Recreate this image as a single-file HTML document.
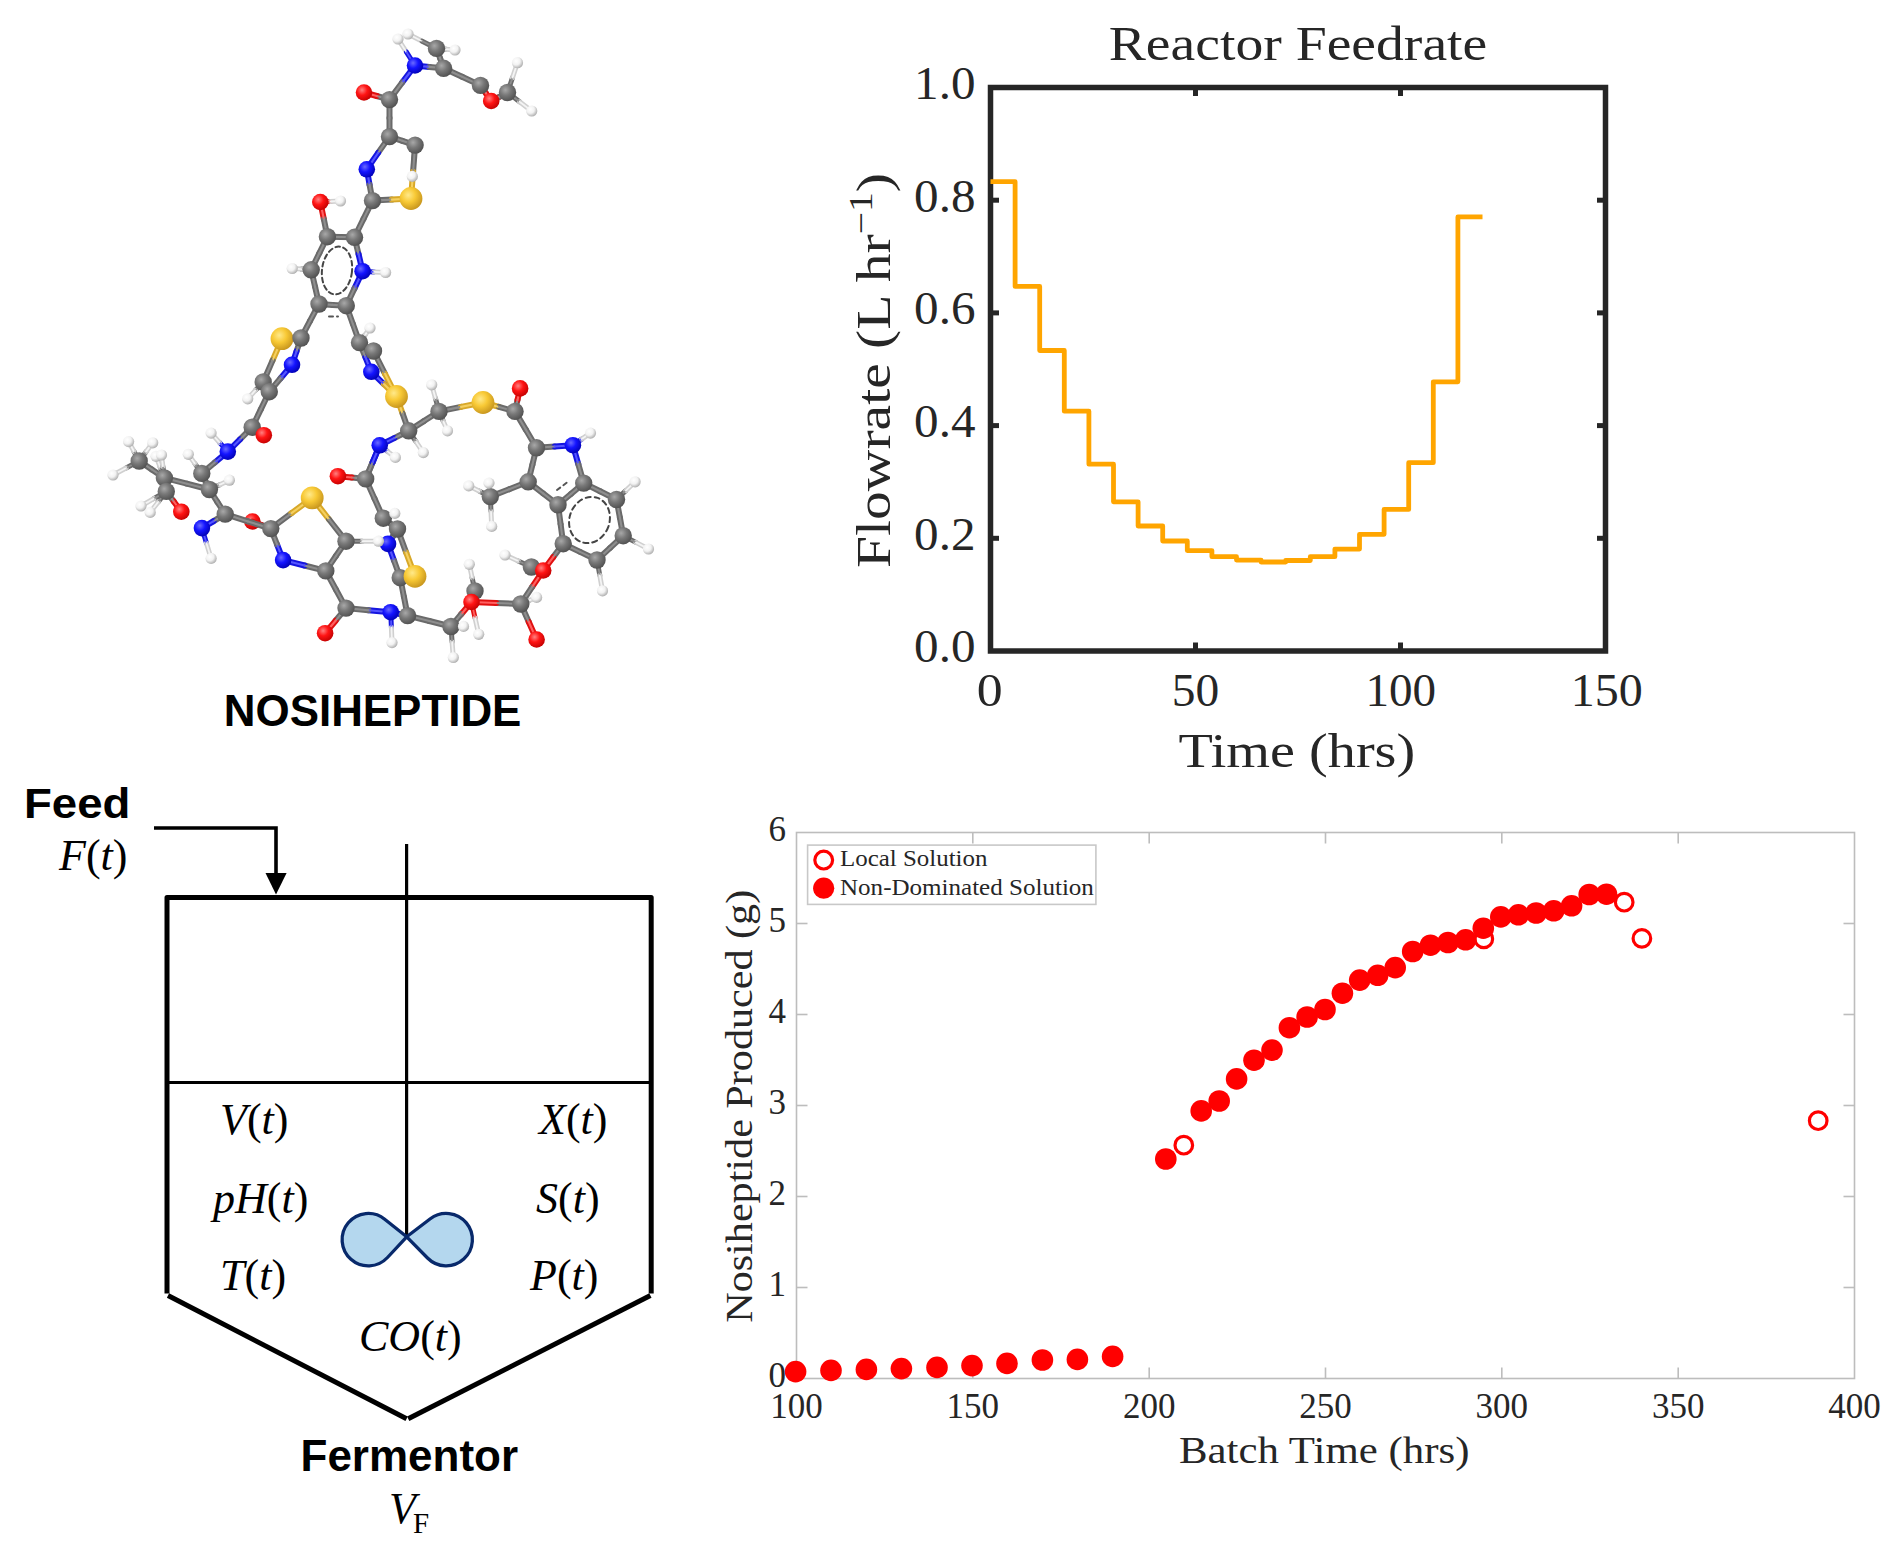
<!DOCTYPE html>
<html><head><meta charset="utf-8"><title>Nosiheptide fed-batch fermentation</title>
<style>html,body{margin:0;padding:0;background:#fff;} svg{display:block;}</style></head>
<body><svg width="1899" height="1552" viewBox="0 0 1899 1552">
<rect width="1899" height="1552" fill="#fff"/>

<defs>
<radialGradient id="gC" cx="0.38" cy="0.35" r="0.7">
 <stop offset="0" stop-color="#a8a8a8"/><stop offset="0.45" stop-color="#787878"/><stop offset="1" stop-color="#4e4e4e"/>
</radialGradient>
<radialGradient id="gN" cx="0.38" cy="0.35" r="0.7">
 <stop offset="0" stop-color="#6a6aff"/><stop offset="0.45" stop-color="#1414ff"/><stop offset="1" stop-color="#0000b0"/>
</radialGradient>
<radialGradient id="gO" cx="0.38" cy="0.35" r="0.7">
 <stop offset="0" stop-color="#ff8080"/><stop offset="0.45" stop-color="#ff1414"/><stop offset="1" stop-color="#c00000"/>
</radialGradient>
<radialGradient id="gS" cx="0.38" cy="0.35" r="0.7">
 <stop offset="0" stop-color="#ffe98a"/><stop offset="0.45" stop-color="#f8c935"/><stop offset="1" stop-color="#c4921c"/>
</radialGradient>
<radialGradient id="gH" cx="0.38" cy="0.35" r="0.7">
 <stop offset="0" stop-color="#ffffff"/><stop offset="0.5" stop-color="#f2f2f2"/><stop offset="1" stop-color="#a8a8a8"/>
</radialGradient>
</defs>
<g id="mol" stroke-linecap="round"><circle cx="252.4" cy="521.5" r="8.3" fill="url(#gO)"/><line x1="398.0" y1="39.0" x2="406.5" y2="52.2" stroke="#d0d0d0" stroke-width="5.0"/><line x1="406.5" y1="52.2" x2="415.0" y2="65.5" stroke="#1515e0" stroke-width="5.0"/><line x1="398.0" y1="39.0" x2="406.5" y2="52.2" stroke="#f4f4f4" stroke-width="1.8"/><line x1="406.5" y1="52.2" x2="415.0" y2="65.5" stroke="#5555ff" stroke-width="1.8"/><line x1="408.0" y1="34.0" x2="422.2" y2="41.2" stroke="#d0d0d0" stroke-width="5.0"/><line x1="422.2" y1="41.2" x2="436.5" y2="48.4" stroke="#6a6a6a" stroke-width="5.0"/><line x1="408.0" y1="34.0" x2="422.2" y2="41.2" stroke="#f4f4f4" stroke-width="1.8"/><line x1="422.2" y1="41.2" x2="436.5" y2="48.4" stroke="#8e8e8e" stroke-width="1.8"/><line x1="415.0" y1="65.5" x2="429.3" y2="66.9" stroke="#1515e0" stroke-width="6.0"/><line x1="429.3" y1="66.9" x2="443.6" y2="68.3" stroke="#6a6a6a" stroke-width="6.0"/><line x1="415.0" y1="65.5" x2="429.3" y2="66.9" stroke="#5555ff" stroke-width="2.1"/><line x1="429.3" y1="66.9" x2="443.6" y2="68.3" stroke="#8e8e8e" stroke-width="2.1"/><line x1="436.5" y1="48.4" x2="440.1" y2="58.3" stroke="#6a6a6a" stroke-width="6.0"/><line x1="440.1" y1="58.3" x2="443.6" y2="68.3" stroke="#6a6a6a" stroke-width="6.0"/><line x1="436.5" y1="48.4" x2="440.1" y2="58.3" stroke="#8e8e8e" stroke-width="2.1"/><line x1="440.1" y1="58.3" x2="443.6" y2="68.3" stroke="#8e8e8e" stroke-width="2.1"/><line x1="436.5" y1="48.4" x2="445.8" y2="49.2" stroke="#6a6a6a" stroke-width="5.0"/><line x1="445.8" y1="49.2" x2="455.0" y2="50.0" stroke="#d0d0d0" stroke-width="5.0"/><line x1="436.5" y1="48.4" x2="445.8" y2="49.2" stroke="#8e8e8e" stroke-width="1.8"/><line x1="445.8" y1="49.2" x2="455.0" y2="50.0" stroke="#f4f4f4" stroke-width="1.8"/><line x1="443.6" y1="68.3" x2="462.1" y2="76.8" stroke="#6a6a6a" stroke-width="6.0"/><line x1="462.1" y1="76.8" x2="480.5" y2="85.4" stroke="#6a6a6a" stroke-width="6.0"/><line x1="443.6" y1="68.3" x2="462.1" y2="76.8" stroke="#8e8e8e" stroke-width="2.1"/><line x1="462.1" y1="76.8" x2="480.5" y2="85.4" stroke="#8e8e8e" stroke-width="2.1"/><line x1="480.5" y1="85.4" x2="485.9" y2="93.2" stroke="#6a6a6a" stroke-width="6.0"/><line x1="485.9" y1="93.2" x2="491.2" y2="101.0" stroke="#e01010" stroke-width="6.0"/><line x1="480.5" y1="85.4" x2="485.9" y2="93.2" stroke="#8e8e8e" stroke-width="2.1"/><line x1="485.9" y1="93.2" x2="491.2" y2="101.0" stroke="#ff6060" stroke-width="2.1"/><line x1="491.2" y1="101.0" x2="499.4" y2="96.8" stroke="#e01010" stroke-width="6.0"/><line x1="499.4" y1="96.8" x2="507.5" y2="92.5" stroke="#6a6a6a" stroke-width="6.0"/><line x1="491.2" y1="101.0" x2="499.4" y2="96.8" stroke="#ff6060" stroke-width="2.1"/><line x1="499.4" y1="96.8" x2="507.5" y2="92.5" stroke="#8e8e8e" stroke-width="2.1"/><line x1="507.5" y1="92.5" x2="512.5" y2="77.6" stroke="#6a6a6a" stroke-width="5.0"/><line x1="512.5" y1="77.6" x2="517.5" y2="62.7" stroke="#d0d0d0" stroke-width="5.0"/><line x1="507.5" y1="92.5" x2="512.5" y2="77.6" stroke="#8e8e8e" stroke-width="1.8"/><line x1="512.5" y1="77.6" x2="517.5" y2="62.7" stroke="#f4f4f4" stroke-width="1.8"/><line x1="507.5" y1="92.5" x2="519.6" y2="101.8" stroke="#6a6a6a" stroke-width="5.0"/><line x1="519.6" y1="101.8" x2="531.7" y2="111.0" stroke="#d0d0d0" stroke-width="5.0"/><line x1="507.5" y1="92.5" x2="519.6" y2="101.8" stroke="#8e8e8e" stroke-width="1.8"/><line x1="519.6" y1="101.8" x2="531.7" y2="111.0" stroke="#f4f4f4" stroke-width="1.8"/><line x1="415.0" y1="65.5" x2="402.2" y2="82.5" stroke="#1515e0" stroke-width="6.0"/><line x1="402.2" y1="82.5" x2="389.5" y2="99.6" stroke="#6a6a6a" stroke-width="6.0"/><line x1="415.0" y1="65.5" x2="402.2" y2="82.5" stroke="#5555ff" stroke-width="2.1"/><line x1="402.2" y1="82.5" x2="389.5" y2="99.6" stroke="#8e8e8e" stroke-width="2.1"/><line x1="389.5" y1="99.6" x2="376.8" y2="96.0" stroke="#6a6a6a" stroke-width="6.0"/><line x1="376.8" y1="96.0" x2="364.0" y2="92.5" stroke="#e01010" stroke-width="6.0"/><line x1="389.5" y1="99.6" x2="376.8" y2="96.0" stroke="#8e8e8e" stroke-width="2.1"/><line x1="376.8" y1="96.0" x2="364.0" y2="92.5" stroke="#ff6060" stroke-width="2.1"/><line x1="389.5" y1="99.6" x2="389.5" y2="118.1" stroke="#6a6a6a" stroke-width="6.0"/><line x1="389.5" y1="118.1" x2="389.5" y2="136.6" stroke="#6a6a6a" stroke-width="6.0"/><line x1="389.5" y1="99.6" x2="389.5" y2="118.1" stroke="#8e8e8e" stroke-width="2.1"/><line x1="389.5" y1="118.1" x2="389.5" y2="136.6" stroke="#8e8e8e" stroke-width="2.1"/><line x1="389.5" y1="136.6" x2="402.3" y2="140.8" stroke="#6a6a6a" stroke-width="6.0"/><line x1="402.3" y1="140.8" x2="415.1" y2="145.1" stroke="#6a6a6a" stroke-width="6.0"/><line x1="389.5" y1="136.6" x2="402.3" y2="140.8" stroke="#8e8e8e" stroke-width="2.1"/><line x1="402.3" y1="140.8" x2="415.1" y2="145.1" stroke="#8e8e8e" stroke-width="2.1"/><line x1="389.5" y1="136.6" x2="378.1" y2="152.9" stroke="#6a6a6a" stroke-width="6.0"/><line x1="378.1" y1="152.9" x2="366.8" y2="169.3" stroke="#1515e0" stroke-width="6.0"/><line x1="389.5" y1="136.6" x2="378.1" y2="152.9" stroke="#8e8e8e" stroke-width="2.1"/><line x1="378.1" y1="152.9" x2="366.8" y2="169.3" stroke="#5555ff" stroke-width="2.1"/><line x1="415.1" y1="145.1" x2="413.7" y2="160.8" stroke="#6a6a6a" stroke-width="5.0"/><line x1="413.7" y1="160.8" x2="412.3" y2="176.4" stroke="#d0d0d0" stroke-width="5.0"/><line x1="415.1" y1="145.1" x2="413.7" y2="160.8" stroke="#8e8e8e" stroke-width="1.8"/><line x1="413.7" y1="160.8" x2="412.3" y2="176.4" stroke="#f4f4f4" stroke-width="1.8"/><line x1="415.1" y1="145.1" x2="413.1" y2="171.8" stroke="#6a6a6a" stroke-width="6.0"/><line x1="413.1" y1="171.8" x2="411.0" y2="198.5" stroke="#d8a828" stroke-width="6.0"/><line x1="415.1" y1="145.1" x2="413.1" y2="171.8" stroke="#8e8e8e" stroke-width="2.1"/><line x1="413.1" y1="171.8" x2="411.0" y2="198.5" stroke="#f5d060" stroke-width="2.1"/><line x1="366.8" y1="169.3" x2="369.6" y2="184.9" stroke="#1515e0" stroke-width="6.0"/><line x1="369.6" y1="184.9" x2="372.5" y2="200.6" stroke="#6a6a6a" stroke-width="6.0"/><line x1="366.8" y1="169.3" x2="369.6" y2="184.9" stroke="#5555ff" stroke-width="2.1"/><line x1="369.6" y1="184.9" x2="372.5" y2="200.6" stroke="#8e8e8e" stroke-width="2.1"/><line x1="372.5" y1="200.6" x2="391.8" y2="199.6" stroke="#6a6a6a" stroke-width="6.0"/><line x1="391.8" y1="199.6" x2="411.0" y2="198.5" stroke="#d8a828" stroke-width="6.0"/><line x1="372.5" y1="200.6" x2="391.8" y2="199.6" stroke="#8e8e8e" stroke-width="2.1"/><line x1="391.8" y1="199.6" x2="411.0" y2="198.5" stroke="#f5d060" stroke-width="2.1"/><line x1="372.5" y1="200.6" x2="363.5" y2="218.9" stroke="#6a6a6a" stroke-width="6.0"/><line x1="363.5" y1="218.9" x2="354.5" y2="237.3" stroke="#6a6a6a" stroke-width="6.0"/><line x1="372.5" y1="200.6" x2="363.5" y2="218.9" stroke="#8e8e8e" stroke-width="2.1"/><line x1="363.5" y1="218.9" x2="354.5" y2="237.3" stroke="#8e8e8e" stroke-width="2.1"/><line x1="320.3" y1="202.0" x2="330.4" y2="201.5" stroke="#e01010" stroke-width="5.0"/><line x1="330.4" y1="201.5" x2="340.5" y2="201.0" stroke="#d0d0d0" stroke-width="5.0"/><line x1="320.3" y1="202.0" x2="330.4" y2="201.5" stroke="#ff6060" stroke-width="1.8"/><line x1="330.4" y1="201.5" x2="340.5" y2="201.0" stroke="#f4f4f4" stroke-width="1.8"/><line x1="320.3" y1="202.0" x2="323.9" y2="219.3" stroke="#e01010" stroke-width="6.0"/><line x1="323.9" y1="219.3" x2="327.4" y2="236.7" stroke="#6a6a6a" stroke-width="6.0"/><line x1="320.3" y1="202.0" x2="323.9" y2="219.3" stroke="#ff6060" stroke-width="2.1"/><line x1="323.9" y1="219.3" x2="327.4" y2="236.7" stroke="#8e8e8e" stroke-width="2.1"/><line x1="327.4" y1="236.7" x2="340.9" y2="237.0" stroke="#6a6a6a" stroke-width="6.0"/><line x1="340.9" y1="237.0" x2="354.5" y2="237.3" stroke="#6a6a6a" stroke-width="6.0"/><line x1="327.4" y1="236.7" x2="340.9" y2="237.0" stroke="#8e8e8e" stroke-width="2.1"/><line x1="340.9" y1="237.0" x2="354.5" y2="237.3" stroke="#8e8e8e" stroke-width="2.1"/><line x1="354.5" y1="237.3" x2="358.6" y2="254.2" stroke="#6a6a6a" stroke-width="6.0"/><line x1="358.6" y1="254.2" x2="362.6" y2="271.2" stroke="#1515e0" stroke-width="6.0"/><line x1="354.5" y1="237.3" x2="358.6" y2="254.2" stroke="#8e8e8e" stroke-width="2.1"/><line x1="358.6" y1="254.2" x2="362.6" y2="271.2" stroke="#5555ff" stroke-width="2.1"/><line x1="362.6" y1="271.2" x2="374.1" y2="271.9" stroke="#1515e0" stroke-width="5.0"/><line x1="374.1" y1="271.9" x2="385.6" y2="272.5" stroke="#d0d0d0" stroke-width="5.0"/><line x1="362.6" y1="271.2" x2="374.1" y2="271.9" stroke="#5555ff" stroke-width="1.8"/><line x1="374.1" y1="271.9" x2="385.6" y2="272.5" stroke="#f4f4f4" stroke-width="1.8"/><line x1="362.6" y1="271.2" x2="354.5" y2="288.4" stroke="#1515e0" stroke-width="6.0"/><line x1="354.5" y1="288.4" x2="346.3" y2="305.7" stroke="#6a6a6a" stroke-width="6.0"/><line x1="362.6" y1="271.2" x2="354.5" y2="288.4" stroke="#5555ff" stroke-width="2.1"/><line x1="354.5" y1="288.4" x2="346.3" y2="305.7" stroke="#8e8e8e" stroke-width="2.1"/><line x1="346.3" y1="305.7" x2="332.6" y2="304.9" stroke="#6a6a6a" stroke-width="6.0"/><line x1="332.6" y1="304.9" x2="319.0" y2="304.0" stroke="#6a6a6a" stroke-width="6.0"/><line x1="346.3" y1="305.7" x2="332.6" y2="304.9" stroke="#8e8e8e" stroke-width="2.1"/><line x1="332.6" y1="304.9" x2="319.0" y2="304.0" stroke="#8e8e8e" stroke-width="2.1"/><line x1="319.0" y1="304.0" x2="315.1" y2="286.9" stroke="#6a6a6a" stroke-width="6.0"/><line x1="315.1" y1="286.9" x2="311.2" y2="269.8" stroke="#6a6a6a" stroke-width="6.0"/><line x1="319.0" y1="304.0" x2="315.1" y2="286.9" stroke="#8e8e8e" stroke-width="2.1"/><line x1="315.1" y1="286.9" x2="311.2" y2="269.8" stroke="#8e8e8e" stroke-width="2.1"/><line x1="311.2" y1="269.8" x2="319.3" y2="253.2" stroke="#6a6a6a" stroke-width="6.0"/><line x1="319.3" y1="253.2" x2="327.4" y2="236.7" stroke="#6a6a6a" stroke-width="6.0"/><line x1="311.2" y1="269.8" x2="319.3" y2="253.2" stroke="#8e8e8e" stroke-width="2.1"/><line x1="319.3" y1="253.2" x2="327.4" y2="236.7" stroke="#8e8e8e" stroke-width="2.1"/><line x1="311.2" y1="269.8" x2="301.7" y2="269.1" stroke="#6a6a6a" stroke-width="5.0"/><line x1="301.7" y1="269.1" x2="292.2" y2="268.5" stroke="#d0d0d0" stroke-width="5.0"/><line x1="311.2" y1="269.8" x2="301.7" y2="269.1" stroke="#8e8e8e" stroke-width="1.8"/><line x1="301.7" y1="269.1" x2="292.2" y2="268.5" stroke="#f4f4f4" stroke-width="1.8"/><line x1="319.0" y1="304.0" x2="310.0" y2="321.0" stroke="#6a6a6a" stroke-width="6.0"/><line x1="310.0" y1="321.0" x2="301.0" y2="338.0" stroke="#6a6a6a" stroke-width="6.0"/><line x1="319.0" y1="304.0" x2="310.0" y2="321.0" stroke="#8e8e8e" stroke-width="2.1"/><line x1="310.0" y1="321.0" x2="301.0" y2="338.0" stroke="#8e8e8e" stroke-width="2.1"/><line x1="346.3" y1="305.7" x2="352.9" y2="324.1" stroke="#6a6a6a" stroke-width="6.0"/><line x1="352.9" y1="324.1" x2="359.5" y2="342.6" stroke="#6a6a6a" stroke-width="6.0"/><line x1="346.3" y1="305.7" x2="352.9" y2="324.1" stroke="#8e8e8e" stroke-width="2.1"/><line x1="352.9" y1="324.1" x2="359.5" y2="342.6" stroke="#8e8e8e" stroke-width="2.1"/><line x1="301.0" y1="338.0" x2="291.5" y2="338.4" stroke="#6a6a6a" stroke-width="6.0"/><line x1="291.5" y1="338.4" x2="282.0" y2="338.7" stroke="#d8a828" stroke-width="6.0"/><line x1="301.0" y1="338.0" x2="291.5" y2="338.4" stroke="#8e8e8e" stroke-width="2.1"/><line x1="291.5" y1="338.4" x2="282.0" y2="338.7" stroke="#f5d060" stroke-width="2.1"/><line x1="301.0" y1="338.0" x2="296.5" y2="351.4" stroke="#6a6a6a" stroke-width="6.0"/><line x1="296.5" y1="351.4" x2="292.0" y2="364.8" stroke="#1515e0" stroke-width="6.0"/><line x1="301.0" y1="338.0" x2="296.5" y2="351.4" stroke="#8e8e8e" stroke-width="2.1"/><line x1="296.5" y1="351.4" x2="292.0" y2="364.8" stroke="#5555ff" stroke-width="2.1"/><line x1="282.0" y1="338.7" x2="272.6" y2="360.4" stroke="#d8a828" stroke-width="6.0"/><line x1="272.6" y1="360.4" x2="263.2" y2="382.0" stroke="#6a6a6a" stroke-width="6.0"/><line x1="282.0" y1="338.7" x2="272.6" y2="360.4" stroke="#f5d060" stroke-width="2.1"/><line x1="272.6" y1="360.4" x2="263.2" y2="382.0" stroke="#8e8e8e" stroke-width="2.1"/><line x1="292.0" y1="364.8" x2="280.6" y2="378.2" stroke="#1515e0" stroke-width="6.0"/><line x1="280.6" y1="378.2" x2="269.3" y2="391.7" stroke="#6a6a6a" stroke-width="6.0"/><line x1="292.0" y1="364.8" x2="280.6" y2="378.2" stroke="#5555ff" stroke-width="2.1"/><line x1="280.6" y1="378.2" x2="269.3" y2="391.7" stroke="#8e8e8e" stroke-width="2.1"/><line x1="263.2" y1="382.0" x2="266.2" y2="386.9" stroke="#6a6a6a" stroke-width="6.0"/><line x1="266.2" y1="386.9" x2="269.3" y2="391.7" stroke="#6a6a6a" stroke-width="6.0"/><line x1="263.2" y1="382.0" x2="266.2" y2="386.9" stroke="#8e8e8e" stroke-width="2.1"/><line x1="266.2" y1="386.9" x2="269.3" y2="391.7" stroke="#8e8e8e" stroke-width="2.1"/><line x1="263.2" y1="382.0" x2="255.4" y2="390.4" stroke="#6a6a6a" stroke-width="5.0"/><line x1="255.4" y1="390.4" x2="247.7" y2="398.8" stroke="#d0d0d0" stroke-width="5.0"/><line x1="263.2" y1="382.0" x2="255.4" y2="390.4" stroke="#8e8e8e" stroke-width="1.8"/><line x1="255.4" y1="390.4" x2="247.7" y2="398.8" stroke="#f4f4f4" stroke-width="1.8"/><line x1="269.3" y1="391.7" x2="260.8" y2="409.4" stroke="#6a6a6a" stroke-width="6.0"/><line x1="260.8" y1="409.4" x2="252.2" y2="427.2" stroke="#6a6a6a" stroke-width="6.0"/><line x1="269.3" y1="391.7" x2="260.8" y2="409.4" stroke="#8e8e8e" stroke-width="2.1"/><line x1="260.8" y1="409.4" x2="252.2" y2="427.2" stroke="#8e8e8e" stroke-width="2.1"/><line x1="359.5" y1="342.6" x2="364.8" y2="335.3" stroke="#6a6a6a" stroke-width="5.0"/><line x1="364.8" y1="335.3" x2="370.0" y2="328.0" stroke="#d0d0d0" stroke-width="5.0"/><line x1="359.5" y1="342.6" x2="364.8" y2="335.3" stroke="#8e8e8e" stroke-width="1.8"/><line x1="364.8" y1="335.3" x2="370.0" y2="328.0" stroke="#f4f4f4" stroke-width="1.8"/><line x1="359.5" y1="342.6" x2="366.5" y2="346.8" stroke="#6a6a6a" stroke-width="6.0"/><line x1="366.5" y1="346.8" x2="373.5" y2="351.0" stroke="#6a6a6a" stroke-width="6.0"/><line x1="359.5" y1="342.6" x2="366.5" y2="346.8" stroke="#8e8e8e" stroke-width="2.1"/><line x1="366.5" y1="346.8" x2="373.5" y2="351.0" stroke="#8e8e8e" stroke-width="2.1"/><line x1="359.5" y1="342.6" x2="365.4" y2="357.2" stroke="#6a6a6a" stroke-width="6.0"/><line x1="365.4" y1="357.2" x2="371.3" y2="371.8" stroke="#1515e0" stroke-width="6.0"/><line x1="359.5" y1="342.6" x2="365.4" y2="357.2" stroke="#8e8e8e" stroke-width="2.1"/><line x1="365.4" y1="357.2" x2="371.3" y2="371.8" stroke="#5555ff" stroke-width="2.1"/><line x1="373.5" y1="351.0" x2="385.0" y2="373.8" stroke="#6a6a6a" stroke-width="6.0"/><line x1="385.0" y1="373.8" x2="396.5" y2="396.5" stroke="#d8a828" stroke-width="6.0"/><line x1="373.5" y1="351.0" x2="385.0" y2="373.8" stroke="#8e8e8e" stroke-width="2.1"/><line x1="385.0" y1="373.8" x2="396.5" y2="396.5" stroke="#f5d060" stroke-width="2.1"/><line x1="371.3" y1="371.8" x2="383.9" y2="384.1" stroke="#1515e0" stroke-width="6.0"/><line x1="383.9" y1="384.1" x2="396.5" y2="396.5" stroke="#d8a828" stroke-width="6.0"/><line x1="371.3" y1="371.8" x2="383.9" y2="384.1" stroke="#5555ff" stroke-width="2.1"/><line x1="383.9" y1="384.1" x2="396.5" y2="396.5" stroke="#f5d060" stroke-width="2.1"/><line x1="396.5" y1="396.5" x2="402.6" y2="413.6" stroke="#d8a828" stroke-width="6.0"/><line x1="402.6" y1="413.6" x2="408.7" y2="430.8" stroke="#6a6a6a" stroke-width="6.0"/><line x1="396.5" y1="396.5" x2="402.6" y2="413.6" stroke="#f5d060" stroke-width="2.1"/><line x1="402.6" y1="413.6" x2="408.7" y2="430.8" stroke="#8e8e8e" stroke-width="2.1"/><line x1="408.7" y1="430.8" x2="394.2" y2="438.1" stroke="#6a6a6a" stroke-width="6.0"/><line x1="394.2" y1="438.1" x2="379.7" y2="445.3" stroke="#1515e0" stroke-width="6.0"/><line x1="408.7" y1="430.8" x2="394.2" y2="438.1" stroke="#8e8e8e" stroke-width="2.1"/><line x1="394.2" y1="438.1" x2="379.7" y2="445.3" stroke="#5555ff" stroke-width="2.1"/><line x1="408.7" y1="430.8" x2="416.0" y2="441.7" stroke="#6a6a6a" stroke-width="5.0"/><line x1="416.0" y1="441.7" x2="423.3" y2="452.6" stroke="#d0d0d0" stroke-width="5.0"/><line x1="408.7" y1="430.8" x2="416.0" y2="441.7" stroke="#8e8e8e" stroke-width="1.8"/><line x1="416.0" y1="441.7" x2="423.3" y2="452.6" stroke="#f4f4f4" stroke-width="1.8"/><line x1="408.7" y1="430.8" x2="423.9" y2="421.1" stroke="#6a6a6a" stroke-width="6.0"/><line x1="423.9" y1="421.1" x2="439.0" y2="411.4" stroke="#6a6a6a" stroke-width="6.0"/><line x1="408.7" y1="430.8" x2="423.9" y2="421.1" stroke="#8e8e8e" stroke-width="2.1"/><line x1="423.9" y1="421.1" x2="439.0" y2="411.4" stroke="#8e8e8e" stroke-width="2.1"/><line x1="379.7" y1="445.3" x2="387.5" y2="451.4" stroke="#1515e0" stroke-width="5.0"/><line x1="387.5" y1="451.4" x2="395.4" y2="457.4" stroke="#d0d0d0" stroke-width="5.0"/><line x1="379.7" y1="445.3" x2="387.5" y2="451.4" stroke="#5555ff" stroke-width="1.8"/><line x1="387.5" y1="451.4" x2="395.4" y2="457.4" stroke="#f4f4f4" stroke-width="1.8"/><line x1="379.7" y1="445.3" x2="372.7" y2="462.1" stroke="#1515e0" stroke-width="6.0"/><line x1="372.7" y1="462.1" x2="365.7" y2="478.9" stroke="#6a6a6a" stroke-width="6.0"/><line x1="379.7" y1="445.3" x2="372.7" y2="462.1" stroke="#5555ff" stroke-width="2.1"/><line x1="372.7" y1="462.1" x2="365.7" y2="478.9" stroke="#8e8e8e" stroke-width="2.1"/><line x1="439.0" y1="411.4" x2="435.4" y2="398.1" stroke="#6a6a6a" stroke-width="5.0"/><line x1="435.4" y1="398.1" x2="431.7" y2="384.8" stroke="#d0d0d0" stroke-width="5.0"/><line x1="439.0" y1="411.4" x2="435.4" y2="398.1" stroke="#8e8e8e" stroke-width="1.8"/><line x1="435.4" y1="398.1" x2="431.7" y2="384.8" stroke="#f4f4f4" stroke-width="1.8"/><line x1="439.0" y1="411.4" x2="443.2" y2="421.1" stroke="#6a6a6a" stroke-width="5.0"/><line x1="443.2" y1="421.1" x2="447.5" y2="430.8" stroke="#d0d0d0" stroke-width="5.0"/><line x1="439.0" y1="411.4" x2="443.2" y2="421.1" stroke="#8e8e8e" stroke-width="1.8"/><line x1="443.2" y1="421.1" x2="447.5" y2="430.8" stroke="#f4f4f4" stroke-width="1.8"/><line x1="439.0" y1="411.4" x2="461.0" y2="406.9" stroke="#6a6a6a" stroke-width="6.0"/><line x1="461.0" y1="406.9" x2="483.0" y2="402.5" stroke="#d8a828" stroke-width="6.0"/><line x1="439.0" y1="411.4" x2="461.0" y2="406.9" stroke="#8e8e8e" stroke-width="2.1"/><line x1="461.0" y1="406.9" x2="483.0" y2="402.5" stroke="#f5d060" stroke-width="2.1"/><line x1="483.0" y1="402.5" x2="499.0" y2="406.9" stroke="#d8a828" stroke-width="6.0"/><line x1="499.0" y1="406.9" x2="515.0" y2="411.4" stroke="#6a6a6a" stroke-width="6.0"/><line x1="483.0" y1="402.5" x2="499.0" y2="406.9" stroke="#f5d060" stroke-width="2.1"/><line x1="499.0" y1="406.9" x2="515.0" y2="411.4" stroke="#8e8e8e" stroke-width="2.1"/><line x1="515.0" y1="411.4" x2="517.5" y2="399.9" stroke="#6a6a6a" stroke-width="6.0"/><line x1="517.5" y1="399.9" x2="520.1" y2="388.4" stroke="#e01010" stroke-width="6.0"/><line x1="515.0" y1="411.4" x2="517.5" y2="399.9" stroke="#8e8e8e" stroke-width="2.1"/><line x1="517.5" y1="399.9" x2="520.1" y2="388.4" stroke="#ff6060" stroke-width="2.1"/><line x1="515.0" y1="411.4" x2="525.8" y2="429.6" stroke="#6a6a6a" stroke-width="6.0"/><line x1="525.8" y1="429.6" x2="536.5" y2="447.8" stroke="#6a6a6a" stroke-width="6.0"/><line x1="515.0" y1="411.4" x2="525.8" y2="429.6" stroke="#8e8e8e" stroke-width="2.1"/><line x1="525.8" y1="429.6" x2="536.5" y2="447.8" stroke="#8e8e8e" stroke-width="2.1"/><line x1="536.5" y1="447.8" x2="554.7" y2="446.5" stroke="#6a6a6a" stroke-width="6.0"/><line x1="554.7" y1="446.5" x2="572.9" y2="445.2" stroke="#1515e0" stroke-width="6.0"/><line x1="536.5" y1="447.8" x2="554.7" y2="446.5" stroke="#8e8e8e" stroke-width="2.1"/><line x1="554.7" y1="446.5" x2="572.9" y2="445.2" stroke="#5555ff" stroke-width="2.1"/><line x1="572.9" y1="445.2" x2="581.7" y2="439.1" stroke="#1515e0" stroke-width="5.0"/><line x1="581.7" y1="439.1" x2="590.5" y2="433.1" stroke="#d0d0d0" stroke-width="5.0"/><line x1="572.9" y1="445.2" x2="581.7" y2="439.1" stroke="#5555ff" stroke-width="1.8"/><line x1="581.7" y1="439.1" x2="590.5" y2="433.1" stroke="#f4f4f4" stroke-width="1.8"/><line x1="572.9" y1="445.2" x2="578.3" y2="464.1" stroke="#1515e0" stroke-width="6.0"/><line x1="578.3" y1="464.1" x2="583.7" y2="483.1" stroke="#6a6a6a" stroke-width="6.0"/><line x1="572.9" y1="445.2" x2="578.3" y2="464.1" stroke="#5555ff" stroke-width="2.1"/><line x1="578.3" y1="464.1" x2="583.7" y2="483.1" stroke="#8e8e8e" stroke-width="2.1"/><line x1="536.5" y1="447.8" x2="532.4" y2="464.8" stroke="#6a6a6a" stroke-width="6.0"/><line x1="532.4" y1="464.8" x2="528.2" y2="481.8" stroke="#6a6a6a" stroke-width="6.0"/><line x1="536.5" y1="447.8" x2="532.4" y2="464.8" stroke="#8e8e8e" stroke-width="2.1"/><line x1="532.4" y1="464.8" x2="528.2" y2="481.8" stroke="#8e8e8e" stroke-width="2.1"/><line x1="528.2" y1="481.8" x2="543.1" y2="493.3" stroke="#6a6a6a" stroke-width="6.0"/><line x1="543.1" y1="493.3" x2="558.0" y2="504.8" stroke="#6a6a6a" stroke-width="6.0"/><line x1="528.2" y1="481.8" x2="543.1" y2="493.3" stroke="#8e8e8e" stroke-width="2.1"/><line x1="543.1" y1="493.3" x2="558.0" y2="504.8" stroke="#8e8e8e" stroke-width="2.1"/><line x1="583.7" y1="483.1" x2="570.9" y2="494.0" stroke="#6a6a6a" stroke-width="6.0"/><line x1="570.9" y1="494.0" x2="558.0" y2="504.8" stroke="#6a6a6a" stroke-width="6.0"/><line x1="583.7" y1="483.1" x2="570.9" y2="494.0" stroke="#8e8e8e" stroke-width="2.1"/><line x1="570.9" y1="494.0" x2="558.0" y2="504.8" stroke="#8e8e8e" stroke-width="2.1"/><line x1="583.7" y1="483.1" x2="600.1" y2="491.3" stroke="#6a6a6a" stroke-width="6.0"/><line x1="600.1" y1="491.3" x2="616.5" y2="499.5" stroke="#6a6a6a" stroke-width="6.0"/><line x1="583.7" y1="483.1" x2="600.1" y2="491.3" stroke="#8e8e8e" stroke-width="2.1"/><line x1="600.1" y1="491.3" x2="616.5" y2="499.5" stroke="#8e8e8e" stroke-width="2.1"/><line x1="616.5" y1="499.5" x2="625.8" y2="490.6" stroke="#6a6a6a" stroke-width="5.0"/><line x1="625.8" y1="490.6" x2="635.1" y2="481.8" stroke="#d0d0d0" stroke-width="5.0"/><line x1="616.5" y1="499.5" x2="625.8" y2="490.6" stroke="#8e8e8e" stroke-width="1.8"/><line x1="625.8" y1="490.6" x2="635.1" y2="481.8" stroke="#f4f4f4" stroke-width="1.8"/><line x1="616.5" y1="499.5" x2="619.9" y2="517.6" stroke="#6a6a6a" stroke-width="6.0"/><line x1="619.9" y1="517.6" x2="623.2" y2="535.7" stroke="#6a6a6a" stroke-width="6.0"/><line x1="616.5" y1="499.5" x2="619.9" y2="517.6" stroke="#8e8e8e" stroke-width="2.1"/><line x1="619.9" y1="517.6" x2="623.2" y2="535.7" stroke="#8e8e8e" stroke-width="2.1"/><line x1="623.2" y1="535.7" x2="635.9" y2="542.4" stroke="#6a6a6a" stroke-width="5.0"/><line x1="635.9" y1="542.4" x2="648.5" y2="549.0" stroke="#d0d0d0" stroke-width="5.0"/><line x1="623.2" y1="535.7" x2="635.9" y2="542.4" stroke="#8e8e8e" stroke-width="1.8"/><line x1="635.9" y1="542.4" x2="648.5" y2="549.0" stroke="#f4f4f4" stroke-width="1.8"/><line x1="623.2" y1="535.7" x2="610.1" y2="547.9" stroke="#6a6a6a" stroke-width="6.0"/><line x1="610.1" y1="547.9" x2="597.0" y2="560.0" stroke="#6a6a6a" stroke-width="6.0"/><line x1="623.2" y1="535.7" x2="610.1" y2="547.9" stroke="#8e8e8e" stroke-width="2.1"/><line x1="610.1" y1="547.9" x2="597.0" y2="560.0" stroke="#8e8e8e" stroke-width="2.1"/><line x1="597.0" y1="560.0" x2="599.8" y2="575.4" stroke="#6a6a6a" stroke-width="5.0"/><line x1="599.8" y1="575.4" x2="602.5" y2="590.8" stroke="#d0d0d0" stroke-width="5.0"/><line x1="597.0" y1="560.0" x2="599.8" y2="575.4" stroke="#8e8e8e" stroke-width="1.8"/><line x1="599.8" y1="575.4" x2="602.5" y2="590.8" stroke="#f4f4f4" stroke-width="1.8"/><line x1="597.0" y1="560.0" x2="580.1" y2="551.9" stroke="#6a6a6a" stroke-width="6.0"/><line x1="580.1" y1="551.9" x2="563.2" y2="543.7" stroke="#6a6a6a" stroke-width="6.0"/><line x1="597.0" y1="560.0" x2="580.1" y2="551.9" stroke="#8e8e8e" stroke-width="2.1"/><line x1="580.1" y1="551.9" x2="563.2" y2="543.7" stroke="#8e8e8e" stroke-width="2.1"/><line x1="563.2" y1="543.7" x2="560.6" y2="524.2" stroke="#6a6a6a" stroke-width="6.0"/><line x1="560.6" y1="524.2" x2="558.0" y2="504.8" stroke="#6a6a6a" stroke-width="6.0"/><line x1="563.2" y1="543.7" x2="560.6" y2="524.2" stroke="#8e8e8e" stroke-width="2.1"/><line x1="560.6" y1="524.2" x2="558.0" y2="504.8" stroke="#8e8e8e" stroke-width="2.1"/><line x1="528.2" y1="481.8" x2="509.2" y2="489.2" stroke="#6a6a6a" stroke-width="6.0"/><line x1="509.2" y1="489.2" x2="490.3" y2="496.6" stroke="#6a6a6a" stroke-width="6.0"/><line x1="528.2" y1="481.8" x2="509.2" y2="489.2" stroke="#8e8e8e" stroke-width="2.1"/><line x1="509.2" y1="489.2" x2="490.3" y2="496.6" stroke="#8e8e8e" stroke-width="2.1"/><line x1="490.3" y1="496.6" x2="479.5" y2="491.2" stroke="#6a6a6a" stroke-width="5.0"/><line x1="479.5" y1="491.2" x2="468.7" y2="485.8" stroke="#d0d0d0" stroke-width="5.0"/><line x1="490.3" y1="496.6" x2="479.5" y2="491.2" stroke="#8e8e8e" stroke-width="1.8"/><line x1="479.5" y1="491.2" x2="468.7" y2="485.8" stroke="#f4f4f4" stroke-width="1.8"/><line x1="490.3" y1="496.6" x2="489.6" y2="489.9" stroke="#6a6a6a" stroke-width="5.0"/><line x1="489.6" y1="489.9" x2="489.0" y2="483.1" stroke="#d0d0d0" stroke-width="5.0"/><line x1="490.3" y1="496.6" x2="489.6" y2="489.9" stroke="#8e8e8e" stroke-width="1.8"/><line x1="489.6" y1="489.9" x2="489.0" y2="483.1" stroke="#f4f4f4" stroke-width="1.8"/><line x1="490.3" y1="496.6" x2="491.0" y2="511.5" stroke="#6a6a6a" stroke-width="5.0"/><line x1="491.0" y1="511.5" x2="491.7" y2="526.4" stroke="#d0d0d0" stroke-width="5.0"/><line x1="490.3" y1="496.6" x2="491.0" y2="511.5" stroke="#8e8e8e" stroke-width="1.8"/><line x1="491.0" y1="511.5" x2="491.7" y2="526.4" stroke="#f4f4f4" stroke-width="1.8"/><line x1="563.2" y1="543.7" x2="553.2" y2="557.1" stroke="#6a6a6a" stroke-width="6.0"/><line x1="553.2" y1="557.1" x2="543.2" y2="570.5" stroke="#e01010" stroke-width="6.0"/><line x1="563.2" y1="543.7" x2="553.2" y2="557.1" stroke="#8e8e8e" stroke-width="2.1"/><line x1="553.2" y1="557.1" x2="543.2" y2="570.5" stroke="#ff6060" stroke-width="2.1"/><line x1="543.2" y1="570.5" x2="537.3" y2="568.8" stroke="#e01010" stroke-width="6.0"/><line x1="537.3" y1="568.8" x2="531.4" y2="567.0" stroke="#6a6a6a" stroke-width="6.0"/><line x1="543.2" y1="570.5" x2="537.3" y2="568.8" stroke="#ff6060" stroke-width="2.1"/><line x1="537.3" y1="568.8" x2="531.4" y2="567.0" stroke="#8e8e8e" stroke-width="2.1"/><line x1="531.4" y1="567.0" x2="518.2" y2="561.0" stroke="#6a6a6a" stroke-width="5.0"/><line x1="518.2" y1="561.0" x2="505.0" y2="555.0" stroke="#d0d0d0" stroke-width="5.0"/><line x1="531.4" y1="567.0" x2="518.2" y2="561.0" stroke="#8e8e8e" stroke-width="1.8"/><line x1="518.2" y1="561.0" x2="505.0" y2="555.0" stroke="#f4f4f4" stroke-width="1.8"/><line x1="543.2" y1="570.5" x2="532.0" y2="587.2" stroke="#e01010" stroke-width="6.0"/><line x1="532.0" y1="587.2" x2="520.8" y2="604.0" stroke="#6a6a6a" stroke-width="6.0"/><line x1="543.2" y1="570.5" x2="532.0" y2="587.2" stroke="#ff6060" stroke-width="2.1"/><line x1="532.0" y1="587.2" x2="520.8" y2="604.0" stroke="#8e8e8e" stroke-width="2.1"/><line x1="520.8" y1="604.0" x2="528.7" y2="600.7" stroke="#6a6a6a" stroke-width="5.0"/><line x1="528.7" y1="600.7" x2="536.6" y2="597.4" stroke="#d0d0d0" stroke-width="5.0"/><line x1="520.8" y1="604.0" x2="528.7" y2="600.7" stroke="#8e8e8e" stroke-width="1.8"/><line x1="528.7" y1="600.7" x2="536.6" y2="597.4" stroke="#f4f4f4" stroke-width="1.8"/><line x1="520.8" y1="604.0" x2="528.7" y2="621.8" stroke="#6a6a6a" stroke-width="6.0"/><line x1="528.7" y1="621.8" x2="536.6" y2="639.5" stroke="#e01010" stroke-width="6.0"/><line x1="520.8" y1="604.0" x2="528.7" y2="621.8" stroke="#8e8e8e" stroke-width="2.1"/><line x1="528.7" y1="621.8" x2="536.6" y2="639.5" stroke="#ff6060" stroke-width="2.1"/><line x1="520.8" y1="604.0" x2="496.1" y2="603.0" stroke="#6a6a6a" stroke-width="6.0"/><line x1="496.1" y1="603.0" x2="471.5" y2="602.0" stroke="#e01010" stroke-width="6.0"/><line x1="520.8" y1="604.0" x2="496.1" y2="603.0" stroke="#8e8e8e" stroke-width="2.1"/><line x1="496.1" y1="603.0" x2="471.5" y2="602.0" stroke="#ff6060" stroke-width="2.1"/><line x1="471.5" y1="602.0" x2="473.2" y2="596.5" stroke="#e01010" stroke-width="6.0"/><line x1="473.2" y1="596.5" x2="475.0" y2="591.0" stroke="#6a6a6a" stroke-width="6.0"/><line x1="471.5" y1="602.0" x2="473.2" y2="596.5" stroke="#ff6060" stroke-width="2.1"/><line x1="473.2" y1="596.5" x2="475.0" y2="591.0" stroke="#8e8e8e" stroke-width="2.1"/><line x1="475.0" y1="591.0" x2="472.1" y2="577.6" stroke="#6a6a6a" stroke-width="5.0"/><line x1="472.1" y1="577.6" x2="469.3" y2="564.3" stroke="#d0d0d0" stroke-width="5.0"/><line x1="475.0" y1="591.0" x2="472.1" y2="577.6" stroke="#8e8e8e" stroke-width="1.8"/><line x1="472.1" y1="577.6" x2="469.3" y2="564.3" stroke="#f4f4f4" stroke-width="1.8"/><line x1="471.5" y1="602.0" x2="461.2" y2="614.2" stroke="#e01010" stroke-width="6.0"/><line x1="461.2" y1="614.2" x2="451.0" y2="626.5" stroke="#6a6a6a" stroke-width="6.0"/><line x1="471.5" y1="602.0" x2="461.2" y2="614.2" stroke="#ff6060" stroke-width="2.1"/><line x1="461.2" y1="614.2" x2="451.0" y2="626.5" stroke="#8e8e8e" stroke-width="2.1"/><line x1="471.5" y1="602.0" x2="475.1" y2="618.1" stroke="#e01010" stroke-width="5.0"/><line x1="475.1" y1="618.1" x2="478.7" y2="634.3" stroke="#d0d0d0" stroke-width="5.0"/><line x1="471.5" y1="602.0" x2="475.1" y2="618.1" stroke="#ff6060" stroke-width="1.8"/><line x1="475.1" y1="618.1" x2="478.7" y2="634.3" stroke="#f4f4f4" stroke-width="1.8"/><line x1="451.0" y1="626.5" x2="457.2" y2="626.5" stroke="#6a6a6a" stroke-width="5.0"/><line x1="457.2" y1="626.5" x2="463.5" y2="626.4" stroke="#d0d0d0" stroke-width="5.0"/><line x1="451.0" y1="626.5" x2="457.2" y2="626.5" stroke="#8e8e8e" stroke-width="1.8"/><line x1="457.2" y1="626.5" x2="463.5" y2="626.4" stroke="#f4f4f4" stroke-width="1.8"/><line x1="451.0" y1="626.5" x2="452.1" y2="642.0" stroke="#6a6a6a" stroke-width="5.0"/><line x1="452.1" y1="642.0" x2="453.3" y2="657.5" stroke="#d0d0d0" stroke-width="5.0"/><line x1="451.0" y1="626.5" x2="452.1" y2="642.0" stroke="#8e8e8e" stroke-width="1.8"/><line x1="452.1" y1="642.0" x2="453.3" y2="657.5" stroke="#f4f4f4" stroke-width="1.8"/><line x1="451.0" y1="626.5" x2="429.3" y2="621.0" stroke="#6a6a6a" stroke-width="6.0"/><line x1="429.3" y1="621.0" x2="407.6" y2="615.6" stroke="#6a6a6a" stroke-width="6.0"/><line x1="451.0" y1="626.5" x2="429.3" y2="621.0" stroke="#8e8e8e" stroke-width="2.1"/><line x1="429.3" y1="621.0" x2="407.6" y2="615.6" stroke="#8e8e8e" stroke-width="2.1"/><line x1="407.6" y1="615.6" x2="399.1" y2="613.9" stroke="#6a6a6a" stroke-width="6.0"/><line x1="399.1" y1="613.9" x2="390.7" y2="612.2" stroke="#1515e0" stroke-width="6.0"/><line x1="407.6" y1="615.6" x2="399.1" y2="613.9" stroke="#8e8e8e" stroke-width="2.1"/><line x1="399.1" y1="613.9" x2="390.7" y2="612.2" stroke="#5555ff" stroke-width="2.1"/><line x1="390.7" y1="612.2" x2="391.4" y2="627.4" stroke="#1515e0" stroke-width="5.0"/><line x1="391.4" y1="627.4" x2="392.0" y2="642.6" stroke="#d0d0d0" stroke-width="5.0"/><line x1="390.7" y1="612.2" x2="391.4" y2="627.4" stroke="#5555ff" stroke-width="1.8"/><line x1="391.4" y1="627.4" x2="392.0" y2="642.6" stroke="#f4f4f4" stroke-width="1.8"/><line x1="390.7" y1="612.2" x2="368.4" y2="610.2" stroke="#1515e0" stroke-width="6.0"/><line x1="368.4" y1="610.2" x2="346.0" y2="608.1" stroke="#6a6a6a" stroke-width="6.0"/><line x1="390.7" y1="612.2" x2="368.4" y2="610.2" stroke="#5555ff" stroke-width="2.1"/><line x1="368.4" y1="610.2" x2="346.0" y2="608.1" stroke="#8e8e8e" stroke-width="2.1"/><line x1="346.0" y1="608.1" x2="335.6" y2="620.7" stroke="#6a6a6a" stroke-width="6.0"/><line x1="335.6" y1="620.7" x2="325.1" y2="633.2" stroke="#e01010" stroke-width="6.0"/><line x1="346.0" y1="608.1" x2="335.6" y2="620.7" stroke="#8e8e8e" stroke-width="2.1"/><line x1="335.6" y1="620.7" x2="325.1" y2="633.2" stroke="#ff6060" stroke-width="2.1"/><line x1="346.0" y1="608.1" x2="335.9" y2="589.5" stroke="#6a6a6a" stroke-width="6.0"/><line x1="335.9" y1="589.5" x2="325.8" y2="570.9" stroke="#6a6a6a" stroke-width="6.0"/><line x1="346.0" y1="608.1" x2="335.9" y2="589.5" stroke="#8e8e8e" stroke-width="2.1"/><line x1="335.9" y1="589.5" x2="325.8" y2="570.9" stroke="#8e8e8e" stroke-width="2.1"/><line x1="325.8" y1="570.9" x2="304.5" y2="565.5" stroke="#6a6a6a" stroke-width="6.0"/><line x1="304.5" y1="565.5" x2="283.1" y2="560.1" stroke="#1515e0" stroke-width="6.0"/><line x1="325.8" y1="570.9" x2="304.5" y2="565.5" stroke="#8e8e8e" stroke-width="2.1"/><line x1="304.5" y1="565.5" x2="283.1" y2="560.1" stroke="#5555ff" stroke-width="2.1"/><line x1="325.8" y1="570.9" x2="335.9" y2="556.0" stroke="#6a6a6a" stroke-width="6.0"/><line x1="335.9" y1="556.0" x2="346.0" y2="541.2" stroke="#6a6a6a" stroke-width="6.0"/><line x1="325.8" y1="570.9" x2="335.9" y2="556.0" stroke="#8e8e8e" stroke-width="2.1"/><line x1="335.9" y1="556.0" x2="346.0" y2="541.2" stroke="#8e8e8e" stroke-width="2.1"/><line x1="283.1" y1="560.1" x2="277.0" y2="544.4" stroke="#1515e0" stroke-width="6.0"/><line x1="277.0" y1="544.4" x2="270.8" y2="528.6" stroke="#6a6a6a" stroke-width="6.0"/><line x1="283.1" y1="560.1" x2="277.0" y2="544.4" stroke="#5555ff" stroke-width="2.1"/><line x1="277.0" y1="544.4" x2="270.8" y2="528.6" stroke="#8e8e8e" stroke-width="2.1"/><line x1="270.8" y1="528.6" x2="291.5" y2="513.2" stroke="#6a6a6a" stroke-width="6.0"/><line x1="291.5" y1="513.2" x2="312.2" y2="497.9" stroke="#d8a828" stroke-width="6.0"/><line x1="270.8" y1="528.6" x2="291.5" y2="513.2" stroke="#8e8e8e" stroke-width="2.1"/><line x1="291.5" y1="513.2" x2="312.2" y2="497.9" stroke="#f5d060" stroke-width="2.1"/><line x1="312.2" y1="497.9" x2="329.1" y2="519.5" stroke="#d8a828" stroke-width="6.0"/><line x1="329.1" y1="519.5" x2="346.0" y2="541.2" stroke="#6a6a6a" stroke-width="6.0"/><line x1="312.2" y1="497.9" x2="329.1" y2="519.5" stroke="#f5d060" stroke-width="2.1"/><line x1="329.1" y1="519.5" x2="346.0" y2="541.2" stroke="#8e8e8e" stroke-width="2.1"/><line x1="346.0" y1="541.2" x2="362.2" y2="541.2" stroke="#6a6a6a" stroke-width="5.0"/><line x1="362.2" y1="541.2" x2="378.5" y2="541.2" stroke="#d0d0d0" stroke-width="5.0"/><line x1="346.0" y1="541.2" x2="362.2" y2="541.2" stroke="#8e8e8e" stroke-width="1.8"/><line x1="362.2" y1="541.2" x2="378.5" y2="541.2" stroke="#f4f4f4" stroke-width="1.8"/><line x1="388.0" y1="543.9" x2="392.8" y2="536.5" stroke="#1515e0" stroke-width="6.0"/><line x1="392.8" y1="536.5" x2="397.5" y2="529.0" stroke="#6a6a6a" stroke-width="6.0"/><line x1="388.0" y1="543.9" x2="392.8" y2="536.5" stroke="#5555ff" stroke-width="2.1"/><line x1="392.8" y1="536.5" x2="397.5" y2="529.0" stroke="#8e8e8e" stroke-width="2.1"/><line x1="388.0" y1="543.9" x2="394.1" y2="560.8" stroke="#1515e0" stroke-width="6.0"/><line x1="394.1" y1="560.8" x2="400.2" y2="577.7" stroke="#6a6a6a" stroke-width="6.0"/><line x1="388.0" y1="543.9" x2="394.1" y2="560.8" stroke="#5555ff" stroke-width="2.1"/><line x1="394.1" y1="560.8" x2="400.2" y2="577.7" stroke="#8e8e8e" stroke-width="2.1"/><line x1="383.3" y1="518.2" x2="374.5" y2="498.6" stroke="#6a6a6a" stroke-width="6.0"/><line x1="374.5" y1="498.6" x2="365.7" y2="478.9" stroke="#6a6a6a" stroke-width="6.0"/><line x1="383.3" y1="518.2" x2="374.5" y2="498.6" stroke="#8e8e8e" stroke-width="2.1"/><line x1="374.5" y1="498.6" x2="365.7" y2="478.9" stroke="#8e8e8e" stroke-width="2.1"/><line x1="383.3" y1="518.2" x2="390.4" y2="523.6" stroke="#6a6a6a" stroke-width="6.0"/><line x1="390.4" y1="523.6" x2="397.5" y2="529.0" stroke="#6a6a6a" stroke-width="6.0"/><line x1="383.3" y1="518.2" x2="390.4" y2="523.6" stroke="#8e8e8e" stroke-width="2.1"/><line x1="390.4" y1="523.6" x2="397.5" y2="529.0" stroke="#8e8e8e" stroke-width="2.1"/><line x1="397.5" y1="529.0" x2="406.2" y2="552.6" stroke="#6a6a6a" stroke-width="6.0"/><line x1="406.2" y1="552.6" x2="415.0" y2="576.3" stroke="#d8a828" stroke-width="6.0"/><line x1="397.5" y1="529.0" x2="406.2" y2="552.6" stroke="#8e8e8e" stroke-width="2.1"/><line x1="406.2" y1="552.6" x2="415.0" y2="576.3" stroke="#f5d060" stroke-width="2.1"/><line x1="415.0" y1="576.3" x2="407.6" y2="577.0" stroke="#d8a828" stroke-width="6.0"/><line x1="407.6" y1="577.0" x2="400.2" y2="577.7" stroke="#6a6a6a" stroke-width="6.0"/><line x1="415.0" y1="576.3" x2="407.6" y2="577.0" stroke="#f5d060" stroke-width="2.1"/><line x1="407.6" y1="577.0" x2="400.2" y2="577.7" stroke="#8e8e8e" stroke-width="2.1"/><line x1="400.2" y1="577.7" x2="403.9" y2="596.7" stroke="#6a6a6a" stroke-width="6.0"/><line x1="403.9" y1="596.7" x2="407.6" y2="615.6" stroke="#6a6a6a" stroke-width="6.0"/><line x1="400.2" y1="577.7" x2="403.9" y2="596.7" stroke="#8e8e8e" stroke-width="2.1"/><line x1="403.9" y1="596.7" x2="407.6" y2="615.6" stroke="#8e8e8e" stroke-width="2.1"/><line x1="383.3" y1="518.2" x2="389.1" y2="515.8" stroke="#6a6a6a" stroke-width="5.0"/><line x1="389.1" y1="515.8" x2="394.8" y2="513.4" stroke="#d0d0d0" stroke-width="5.0"/><line x1="383.3" y1="518.2" x2="389.1" y2="515.8" stroke="#8e8e8e" stroke-width="1.8"/><line x1="389.1" y1="515.8" x2="394.8" y2="513.4" stroke="#f4f4f4" stroke-width="1.8"/><line x1="365.7" y1="478.9" x2="351.8" y2="477.5" stroke="#6a6a6a" stroke-width="6.0"/><line x1="351.8" y1="477.5" x2="337.9" y2="476.2" stroke="#e01010" stroke-width="6.0"/><line x1="365.7" y1="478.9" x2="351.8" y2="477.5" stroke="#8e8e8e" stroke-width="2.1"/><line x1="351.8" y1="477.5" x2="337.9" y2="476.2" stroke="#ff6060" stroke-width="2.1"/><line x1="365.7" y1="478.9" x2="372.7" y2="462.1" stroke="#6a6a6a" stroke-width="6.0"/><line x1="372.7" y1="462.1" x2="379.7" y2="445.3" stroke="#1515e0" stroke-width="6.0"/><line x1="365.7" y1="478.9" x2="372.7" y2="462.1" stroke="#8e8e8e" stroke-width="2.1"/><line x1="372.7" y1="462.1" x2="379.7" y2="445.3" stroke="#5555ff" stroke-width="2.1"/><line x1="270.8" y1="528.6" x2="261.6" y2="525.0" stroke="#6a6a6a" stroke-width="6.0"/><line x1="261.6" y1="525.0" x2="252.4" y2="521.5" stroke="#e01010" stroke-width="6.0"/><line x1="270.8" y1="528.6" x2="261.6" y2="525.0" stroke="#8e8e8e" stroke-width="2.1"/><line x1="261.6" y1="525.0" x2="252.4" y2="521.5" stroke="#ff6060" stroke-width="2.1"/><line x1="270.8" y1="528.6" x2="248.0" y2="521.4" stroke="#6a6a6a" stroke-width="6.0"/><line x1="248.0" y1="521.4" x2="225.2" y2="514.1" stroke="#6a6a6a" stroke-width="6.0"/><line x1="270.8" y1="528.6" x2="248.0" y2="521.4" stroke="#8e8e8e" stroke-width="2.1"/><line x1="248.0" y1="521.4" x2="225.2" y2="514.1" stroke="#8e8e8e" stroke-width="2.1"/><line x1="252.2" y1="427.2" x2="258.0" y2="431.2" stroke="#6a6a6a" stroke-width="6.0"/><line x1="258.0" y1="431.2" x2="263.8" y2="435.2" stroke="#e01010" stroke-width="6.0"/><line x1="252.2" y1="427.2" x2="258.0" y2="431.2" stroke="#8e8e8e" stroke-width="2.1"/><line x1="258.0" y1="431.2" x2="263.8" y2="435.2" stroke="#ff6060" stroke-width="2.1"/><line x1="252.2" y1="427.2" x2="240.0" y2="439.4" stroke="#6a6a6a" stroke-width="6.0"/><line x1="240.0" y1="439.4" x2="227.8" y2="451.6" stroke="#1515e0" stroke-width="6.0"/><line x1="252.2" y1="427.2" x2="240.0" y2="439.4" stroke="#8e8e8e" stroke-width="2.1"/><line x1="240.0" y1="439.4" x2="227.8" y2="451.6" stroke="#5555ff" stroke-width="2.1"/><line x1="227.8" y1="451.6" x2="219.4" y2="442.4" stroke="#1515e0" stroke-width="5.0"/><line x1="219.4" y1="442.4" x2="211.1" y2="433.1" stroke="#d0d0d0" stroke-width="5.0"/><line x1="227.8" y1="451.6" x2="219.4" y2="442.4" stroke="#5555ff" stroke-width="1.8"/><line x1="219.4" y1="442.4" x2="211.1" y2="433.1" stroke="#f4f4f4" stroke-width="1.8"/><line x1="227.8" y1="451.6" x2="214.8" y2="462.5" stroke="#1515e0" stroke-width="6.0"/><line x1="214.8" y1="462.5" x2="201.8" y2="473.4" stroke="#6a6a6a" stroke-width="6.0"/><line x1="227.8" y1="451.6" x2="214.8" y2="462.5" stroke="#5555ff" stroke-width="2.1"/><line x1="214.8" y1="462.5" x2="201.8" y2="473.4" stroke="#8e8e8e" stroke-width="2.1"/><line x1="201.8" y1="473.4" x2="195.1" y2="463.9" stroke="#6a6a6a" stroke-width="5.0"/><line x1="195.1" y1="463.9" x2="188.3" y2="454.3" stroke="#d0d0d0" stroke-width="5.0"/><line x1="201.8" y1="473.4" x2="195.1" y2="463.9" stroke="#8e8e8e" stroke-width="1.8"/><line x1="195.1" y1="463.9" x2="188.3" y2="454.3" stroke="#f4f4f4" stroke-width="1.8"/><line x1="201.8" y1="473.4" x2="205.6" y2="481.4" stroke="#6a6a6a" stroke-width="6.0"/><line x1="205.6" y1="481.4" x2="209.4" y2="489.5" stroke="#6a6a6a" stroke-width="6.0"/><line x1="201.8" y1="473.4" x2="205.6" y2="481.4" stroke="#8e8e8e" stroke-width="2.1"/><line x1="205.6" y1="481.4" x2="209.4" y2="489.5" stroke="#8e8e8e" stroke-width="2.1"/><line x1="164.4" y1="477.9" x2="186.9" y2="483.7" stroke="#6a6a6a" stroke-width="6.0"/><line x1="186.9" y1="483.7" x2="209.4" y2="489.5" stroke="#6a6a6a" stroke-width="6.0"/><line x1="164.4" y1="477.9" x2="186.9" y2="483.7" stroke="#8e8e8e" stroke-width="2.1"/><line x1="186.9" y1="483.7" x2="209.4" y2="489.5" stroke="#8e8e8e" stroke-width="2.1"/><line x1="164.4" y1="477.9" x2="151.8" y2="469.4" stroke="#6a6a6a" stroke-width="6.0"/><line x1="151.8" y1="469.4" x2="139.2" y2="461.0" stroke="#6a6a6a" stroke-width="6.0"/><line x1="164.4" y1="477.9" x2="151.8" y2="469.4" stroke="#8e8e8e" stroke-width="2.1"/><line x1="151.8" y1="469.4" x2="139.2" y2="461.0" stroke="#8e8e8e" stroke-width="2.1"/><line x1="139.2" y1="461.0" x2="133.9" y2="451.3" stroke="#6a6a6a" stroke-width="5.0"/><line x1="133.9" y1="451.3" x2="128.6" y2="441.6" stroke="#d0d0d0" stroke-width="5.0"/><line x1="139.2" y1="461.0" x2="133.9" y2="451.3" stroke="#8e8e8e" stroke-width="1.8"/><line x1="133.9" y1="451.3" x2="128.6" y2="441.6" stroke="#f4f4f4" stroke-width="1.8"/><line x1="139.2" y1="461.0" x2="145.9" y2="451.9" stroke="#6a6a6a" stroke-width="5.0"/><line x1="145.9" y1="451.9" x2="152.7" y2="442.8" stroke="#d0d0d0" stroke-width="5.0"/><line x1="139.2" y1="461.0" x2="145.9" y2="451.9" stroke="#8e8e8e" stroke-width="1.8"/><line x1="145.9" y1="451.9" x2="152.7" y2="442.8" stroke="#f4f4f4" stroke-width="1.8"/><line x1="139.2" y1="461.0" x2="126.1" y2="468.0" stroke="#6a6a6a" stroke-width="5.0"/><line x1="126.1" y1="468.0" x2="113.0" y2="475.0" stroke="#d0d0d0" stroke-width="5.0"/><line x1="139.2" y1="461.0" x2="126.1" y2="468.0" stroke="#8e8e8e" stroke-width="1.8"/><line x1="126.1" y1="468.0" x2="113.0" y2="475.0" stroke="#f4f4f4" stroke-width="1.8"/><line x1="164.4" y1="477.9" x2="160.2" y2="467.1" stroke="#6a6a6a" stroke-width="5.0"/><line x1="160.2" y1="467.1" x2="156.0" y2="456.3" stroke="#d0d0d0" stroke-width="5.0"/><line x1="164.4" y1="477.9" x2="160.2" y2="467.1" stroke="#8e8e8e" stroke-width="1.8"/><line x1="160.2" y1="467.1" x2="156.0" y2="456.3" stroke="#f4f4f4" stroke-width="1.8"/><line x1="164.4" y1="477.9" x2="162.9" y2="466.4" stroke="#6a6a6a" stroke-width="5.0"/><line x1="162.9" y1="466.4" x2="161.5" y2="455.0" stroke="#d0d0d0" stroke-width="5.0"/><line x1="164.4" y1="477.9" x2="162.9" y2="466.4" stroke="#8e8e8e" stroke-width="1.8"/><line x1="162.9" y1="466.4" x2="161.5" y2="455.0" stroke="#f4f4f4" stroke-width="1.8"/><line x1="164.4" y1="477.9" x2="165.4" y2="484.6" stroke="#6a6a6a" stroke-width="6.0"/><line x1="165.4" y1="484.6" x2="166.3" y2="491.4" stroke="#6a6a6a" stroke-width="6.0"/><line x1="164.4" y1="477.9" x2="165.4" y2="484.6" stroke="#8e8e8e" stroke-width="2.1"/><line x1="165.4" y1="484.6" x2="166.3" y2="491.4" stroke="#8e8e8e" stroke-width="2.1"/><line x1="166.3" y1="491.4" x2="153.7" y2="498.7" stroke="#6a6a6a" stroke-width="5.0"/><line x1="153.7" y1="498.7" x2="141.0" y2="506.0" stroke="#d0d0d0" stroke-width="5.0"/><line x1="166.3" y1="491.4" x2="153.7" y2="498.7" stroke="#8e8e8e" stroke-width="1.8"/><line x1="153.7" y1="498.7" x2="141.0" y2="506.0" stroke="#f4f4f4" stroke-width="1.8"/><line x1="166.3" y1="491.4" x2="158.2" y2="501.9" stroke="#6a6a6a" stroke-width="5.0"/><line x1="158.2" y1="501.9" x2="150.2" y2="512.4" stroke="#d0d0d0" stroke-width="5.0"/><line x1="166.3" y1="491.4" x2="158.2" y2="501.9" stroke="#8e8e8e" stroke-width="1.8"/><line x1="158.2" y1="501.9" x2="150.2" y2="512.4" stroke="#f4f4f4" stroke-width="1.8"/><line x1="166.3" y1="491.4" x2="173.8" y2="501.5" stroke="#6a6a6a" stroke-width="6.0"/><line x1="173.8" y1="501.5" x2="181.3" y2="511.7" stroke="#e01010" stroke-width="6.0"/><line x1="166.3" y1="491.4" x2="173.8" y2="501.5" stroke="#8e8e8e" stroke-width="2.1"/><line x1="173.8" y1="501.5" x2="181.3" y2="511.7" stroke="#ff6060" stroke-width="2.1"/><line x1="209.4" y1="489.5" x2="219.4" y2="484.9" stroke="#6a6a6a" stroke-width="5.0"/><line x1="219.4" y1="484.9" x2="229.4" y2="480.2" stroke="#d0d0d0" stroke-width="5.0"/><line x1="209.4" y1="489.5" x2="219.4" y2="484.9" stroke="#8e8e8e" stroke-width="1.8"/><line x1="219.4" y1="484.9" x2="229.4" y2="480.2" stroke="#f4f4f4" stroke-width="1.8"/><line x1="209.4" y1="489.5" x2="217.3" y2="501.8" stroke="#6a6a6a" stroke-width="6.0"/><line x1="217.3" y1="501.8" x2="225.2" y2="514.1" stroke="#6a6a6a" stroke-width="6.0"/><line x1="209.4" y1="489.5" x2="217.3" y2="501.8" stroke="#8e8e8e" stroke-width="2.1"/><line x1="217.3" y1="501.8" x2="225.2" y2="514.1" stroke="#8e8e8e" stroke-width="2.1"/><line x1="225.2" y1="514.1" x2="213.6" y2="521.1" stroke="#6a6a6a" stroke-width="6.0"/><line x1="213.6" y1="521.1" x2="201.9" y2="528.1" stroke="#1515e0" stroke-width="6.0"/><line x1="225.2" y1="514.1" x2="213.6" y2="521.1" stroke="#8e8e8e" stroke-width="2.1"/><line x1="213.6" y1="521.1" x2="201.9" y2="528.1" stroke="#5555ff" stroke-width="2.1"/><line x1="201.9" y1="528.1" x2="206.5" y2="543.2" stroke="#1515e0" stroke-width="5.0"/><line x1="206.5" y1="543.2" x2="211.1" y2="558.4" stroke="#d0d0d0" stroke-width="5.0"/><line x1="201.9" y1="528.1" x2="206.5" y2="543.2" stroke="#5555ff" stroke-width="1.8"/><line x1="206.5" y1="543.2" x2="211.1" y2="558.4" stroke="#f4f4f4" stroke-width="1.8"/><ellipse cx="337" cy="270.5" rx="15" ry="24" transform="rotate(7 337 270.5)" fill="none" stroke="#454545" stroke-width="2" stroke-dasharray="4.5 3.5"/><line x1="329" y1="316.5" x2="338" y2="316.5" stroke="#555" stroke-width="2" stroke-dasharray="4 4"/><ellipse cx="589.5" cy="520" rx="20" ry="23.5" transform="rotate(20 589.5 520)" fill="none" stroke="#454545" stroke-width="2" stroke-dasharray="5 4"/><line x1="557" y1="490" x2="569" y2="481" stroke="#555" stroke-width="2" stroke-dasharray="4 4"/><circle cx="398.0" cy="39.0" r="5.6" fill="url(#gH)"/><circle cx="408.0" cy="34.0" r="5.6" fill="url(#gH)"/><circle cx="415.0" cy="65.5" r="8.3" fill="url(#gN)"/><circle cx="436.5" cy="48.4" r="8.7" fill="url(#gC)"/><circle cx="455.0" cy="50.0" r="5.6" fill="url(#gH)"/><circle cx="443.6" cy="68.3" r="8.7" fill="url(#gC)"/><circle cx="480.5" cy="85.4" r="8.7" fill="url(#gC)"/><circle cx="491.2" cy="101.0" r="8.3" fill="url(#gO)"/><circle cx="507.5" cy="92.5" r="8.7" fill="url(#gC)"/><circle cx="517.5" cy="62.7" r="5.6" fill="url(#gH)"/><circle cx="531.7" cy="111.0" r="5.6" fill="url(#gH)"/><circle cx="364.0" cy="92.5" r="8.3" fill="url(#gO)"/><circle cx="389.5" cy="99.6" r="8.7" fill="url(#gC)"/><circle cx="389.5" cy="136.6" r="8.7" fill="url(#gC)"/><circle cx="415.1" cy="145.1" r="8.7" fill="url(#gC)"/><circle cx="412.3" cy="176.4" r="5.6" fill="url(#gH)"/><circle cx="366.8" cy="169.3" r="8.3" fill="url(#gN)"/><circle cx="372.5" cy="200.6" r="8.7" fill="url(#gC)"/><circle cx="411.0" cy="198.5" r="11.4" fill="url(#gS)"/><circle cx="320.3" cy="202.0" r="8.3" fill="url(#gO)"/><circle cx="340.5" cy="201.0" r="5.6" fill="url(#gH)"/><circle cx="327.4" cy="236.7" r="8.7" fill="url(#gC)"/><circle cx="354.5" cy="237.3" r="8.7" fill="url(#gC)"/><circle cx="311.2" cy="269.8" r="8.7" fill="url(#gC)"/><circle cx="292.2" cy="268.5" r="5.6" fill="url(#gH)"/><circle cx="362.6" cy="271.2" r="8.3" fill="url(#gN)"/><circle cx="385.6" cy="272.5" r="5.6" fill="url(#gH)"/><circle cx="319.0" cy="304.0" r="8.7" fill="url(#gC)"/><circle cx="346.3" cy="305.7" r="8.7" fill="url(#gC)"/><circle cx="282.0" cy="338.7" r="11.4" fill="url(#gS)"/><circle cx="301.0" cy="338.0" r="8.7" fill="url(#gC)"/><circle cx="292.0" cy="364.8" r="8.3" fill="url(#gN)"/><circle cx="263.2" cy="382.0" r="8.7" fill="url(#gC)"/><circle cx="269.3" cy="391.7" r="8.7" fill="url(#gC)"/><circle cx="247.7" cy="398.8" r="5.6" fill="url(#gH)"/><circle cx="359.5" cy="342.6" r="8.7" fill="url(#gC)"/><circle cx="370.0" cy="328.0" r="5.6" fill="url(#gH)"/><circle cx="373.5" cy="351.0" r="8.7" fill="url(#gC)"/><circle cx="371.3" cy="371.8" r="8.3" fill="url(#gN)"/><circle cx="396.5" cy="396.5" r="11.4" fill="url(#gS)"/><circle cx="408.7" cy="430.8" r="8.7" fill="url(#gC)"/><circle cx="379.7" cy="445.3" r="8.3" fill="url(#gN)"/><circle cx="395.4" cy="457.4" r="5.6" fill="url(#gH)"/><circle cx="423.3" cy="452.6" r="5.6" fill="url(#gH)"/><circle cx="439.0" cy="411.4" r="8.7" fill="url(#gC)"/><circle cx="431.7" cy="384.8" r="5.6" fill="url(#gH)"/><circle cx="447.5" cy="430.8" r="5.6" fill="url(#gH)"/><circle cx="483.0" cy="402.5" r="11.4" fill="url(#gS)"/><circle cx="515.0" cy="411.4" r="8.7" fill="url(#gC)"/><circle cx="520.1" cy="388.4" r="8.3" fill="url(#gO)"/><circle cx="536.5" cy="447.8" r="8.7" fill="url(#gC)"/><circle cx="572.9" cy="445.2" r="8.3" fill="url(#gN)"/><circle cx="590.5" cy="433.1" r="5.6" fill="url(#gH)"/><circle cx="528.2" cy="481.8" r="8.7" fill="url(#gC)"/><circle cx="583.7" cy="483.1" r="8.7" fill="url(#gC)"/><circle cx="558.0" cy="504.8" r="8.7" fill="url(#gC)"/><circle cx="490.3" cy="496.6" r="8.7" fill="url(#gC)"/><circle cx="468.7" cy="485.8" r="5.6" fill="url(#gH)"/><circle cx="489.0" cy="483.1" r="5.6" fill="url(#gH)"/><circle cx="491.7" cy="526.4" r="5.6" fill="url(#gH)"/><circle cx="616.5" cy="499.5" r="8.7" fill="url(#gC)"/><circle cx="635.1" cy="481.8" r="5.6" fill="url(#gH)"/><circle cx="623.2" cy="535.7" r="8.7" fill="url(#gC)"/><circle cx="648.5" cy="549.0" r="5.6" fill="url(#gH)"/><circle cx="597.0" cy="560.0" r="8.7" fill="url(#gC)"/><circle cx="602.5" cy="590.8" r="5.6" fill="url(#gH)"/><circle cx="563.2" cy="543.7" r="8.7" fill="url(#gC)"/><circle cx="531.4" cy="567.0" r="8.7" fill="url(#gC)"/><circle cx="543.2" cy="570.5" r="8.3" fill="url(#gO)"/><circle cx="505.0" cy="555.0" r="5.6" fill="url(#gH)"/><circle cx="520.8" cy="604.0" r="8.7" fill="url(#gC)"/><circle cx="536.6" cy="597.4" r="5.6" fill="url(#gH)"/><circle cx="536.6" cy="639.5" r="8.3" fill="url(#gO)"/><circle cx="475.0" cy="591.0" r="8.7" fill="url(#gC)"/><circle cx="469.3" cy="564.3" r="5.6" fill="url(#gH)"/><circle cx="471.5" cy="602.0" r="8.3" fill="url(#gO)"/><circle cx="451.0" cy="626.5" r="8.7" fill="url(#gC)"/><circle cx="478.7" cy="634.3" r="5.6" fill="url(#gH)"/><circle cx="463.5" cy="626.4" r="5.6" fill="url(#gH)"/><circle cx="453.3" cy="657.5" r="5.6" fill="url(#gH)"/><circle cx="407.6" cy="615.6" r="8.7" fill="url(#gC)"/><circle cx="390.7" cy="612.2" r="8.3" fill="url(#gN)"/><circle cx="392.0" cy="642.6" r="5.6" fill="url(#gH)"/><circle cx="346.0" cy="608.1" r="8.7" fill="url(#gC)"/><circle cx="325.1" cy="633.2" r="8.3" fill="url(#gO)"/><circle cx="325.8" cy="570.9" r="8.7" fill="url(#gC)"/><circle cx="283.1" cy="560.1" r="8.3" fill="url(#gN)"/><circle cx="270.8" cy="528.6" r="8.7" fill="url(#gC)"/><circle cx="312.2" cy="497.9" r="11.4" fill="url(#gS)"/><circle cx="346.0" cy="541.2" r="8.7" fill="url(#gC)"/><circle cx="388.0" cy="543.9" r="8.3" fill="url(#gN)"/><circle cx="378.5" cy="541.2" r="5.6" fill="url(#gH)"/><circle cx="383.3" cy="518.2" r="8.7" fill="url(#gC)"/><circle cx="394.8" cy="513.4" r="5.6" fill="url(#gH)"/><circle cx="397.5" cy="529.0" r="8.7" fill="url(#gC)"/><circle cx="400.2" cy="577.7" r="8.7" fill="url(#gC)"/><circle cx="415.0" cy="576.3" r="11.4" fill="url(#gS)"/><circle cx="337.9" cy="476.2" r="8.3" fill="url(#gO)"/><circle cx="365.7" cy="478.9" r="8.7" fill="url(#gC)"/><circle cx="252.2" cy="427.2" r="8.7" fill="url(#gC)"/><circle cx="263.8" cy="435.2" r="8.3" fill="url(#gO)"/><circle cx="227.8" cy="451.6" r="8.3" fill="url(#gN)"/><circle cx="211.1" cy="433.1" r="5.6" fill="url(#gH)"/><circle cx="201.8" cy="473.4" r="8.7" fill="url(#gC)"/><circle cx="188.3" cy="454.3" r="5.6" fill="url(#gH)"/><circle cx="128.6" cy="441.6" r="5.6" fill="url(#gH)"/><circle cx="152.7" cy="442.8" r="5.6" fill="url(#gH)"/><circle cx="156.0" cy="456.3" r="5.6" fill="url(#gH)"/><circle cx="161.5" cy="455.0" r="5.6" fill="url(#gH)"/><circle cx="113.0" cy="475.0" r="5.6" fill="url(#gH)"/><circle cx="139.2" cy="461.0" r="8.7" fill="url(#gC)"/><circle cx="164.4" cy="477.9" r="8.7" fill="url(#gC)"/><circle cx="229.4" cy="480.2" r="5.6" fill="url(#gH)"/><circle cx="209.4" cy="489.5" r="8.7" fill="url(#gC)"/><circle cx="141.0" cy="506.0" r="5.6" fill="url(#gH)"/><circle cx="150.2" cy="512.4" r="5.6" fill="url(#gH)"/><circle cx="166.3" cy="491.4" r="8.7" fill="url(#gC)"/><circle cx="181.3" cy="511.7" r="8.3" fill="url(#gO)"/><circle cx="225.2" cy="514.1" r="8.7" fill="url(#gC)"/><circle cx="201.9" cy="528.1" r="8.3" fill="url(#gN)"/><circle cx="211.1" cy="558.4" r="5.6" fill="url(#gH)"/></g><text x="223.8" y="726.3" font-family="Liberation Sans, sans-serif" font-weight="bold" font-size="45" textLength="297.6" lengthAdjust="spacingAndGlyphs" fill="#000">NOSIHEPTIDE</text><g id="top"><rect x="990.5" y="87.5" width="615.0" height="563.5" fill="none" stroke="#262626" stroke-width="5.5"/><path d="M990.5,181.7 H1015.1 V286.4 H1039.7 V350.5 H1064.3 V411.2 H1088.9 V464.2 H1113.5 V501.8 H1138.1 V526 H1162.7 V541 H1187.3 V550.6 H1211.9 V556.7 H1236.5 V560.1 H1261.1 V562 H1285.7 V560.5 H1310.3 V556.7 H1334.9 V549.1 H1359.5 V534.3 H1384.1 V509.4 H1408.7 V462.7 H1433.3 V381.8 H1457.9 V216.9 H1482.5" fill="none" stroke="#ffa500" stroke-width="4.8" stroke-linejoin="round"/><line x1="990.5" y1="538.3" x2="999.0" y2="538.3" stroke="#262626" stroke-width="5"/><line x1="1605.5" y1="538.3" x2="1597.0" y2="538.3" stroke="#262626" stroke-width="5"/><line x1="990.5" y1="425.6" x2="999.0" y2="425.6" stroke="#262626" stroke-width="5"/><line x1="1605.5" y1="425.6" x2="1597.0" y2="425.6" stroke="#262626" stroke-width="5"/><line x1="990.5" y1="312.9" x2="999.0" y2="312.9" stroke="#262626" stroke-width="5"/><line x1="1605.5" y1="312.9" x2="1597.0" y2="312.9" stroke="#262626" stroke-width="5"/><line x1="990.5" y1="200.2" x2="999.0" y2="200.2" stroke="#262626" stroke-width="5"/><line x1="1605.5" y1="200.2" x2="1597.0" y2="200.2" stroke="#262626" stroke-width="5"/><line x1="1195.5" y1="651.0" x2="1195.5" y2="642.5" stroke="#262626" stroke-width="5"/><line x1="1195.5" y1="87.5" x2="1195.5" y2="96.0" stroke="#262626" stroke-width="5"/><line x1="1400.5" y1="651.0" x2="1400.5" y2="642.5" stroke="#262626" stroke-width="5"/><line x1="1400.5" y1="87.5" x2="1400.5" y2="96.0" stroke="#262626" stroke-width="5"/><text x="975.5" y="662.3" font-family="Liberation Serif, serif" font-size="46" text-anchor="end" textLength="61.4" lengthAdjust="spacingAndGlyphs" fill="#262626">0.0</text><text x="975.5" y="549.6" font-family="Liberation Serif, serif" font-size="46" text-anchor="end" textLength="61.4" lengthAdjust="spacingAndGlyphs" fill="#262626">0.2</text><text x="975.5" y="436.9" font-family="Liberation Serif, serif" font-size="46" text-anchor="end" textLength="61.4" lengthAdjust="spacingAndGlyphs" fill="#262626">0.4</text><text x="975.5" y="324.2" font-family="Liberation Serif, serif" font-size="46" text-anchor="end" textLength="61.4" lengthAdjust="spacingAndGlyphs" fill="#262626">0.6</text><text x="975.5" y="211.5" font-family="Liberation Serif, serif" font-size="46" text-anchor="end" textLength="61.4" lengthAdjust="spacingAndGlyphs" fill="#262626">0.8</text><text x="975.5" y="98.8" font-family="Liberation Serif, serif" font-size="46" text-anchor="end" textLength="61.4" lengthAdjust="spacingAndGlyphs" fill="#262626">1.0</text><text x="989.7" y="706" font-family="Liberation Serif, serif" font-size="46" text-anchor="middle" textLength="25.9" lengthAdjust="spacingAndGlyphs" fill="#262626">0</text><text x="1195.4" y="706" font-family="Liberation Serif, serif" font-size="46" text-anchor="middle" textLength="47.5" lengthAdjust="spacingAndGlyphs" fill="#262626">50</text><text x="1400.7" y="706" font-family="Liberation Serif, serif" font-size="46" text-anchor="middle" textLength="70.6" lengthAdjust="spacingAndGlyphs" fill="#262626">100</text><text x="1606.8" y="706" font-family="Liberation Serif, serif" font-size="46" text-anchor="middle" textLength="72" lengthAdjust="spacingAndGlyphs" fill="#262626">150</text><text x="1296.8" y="767" font-family="Liberation Serif, serif" font-size="48" text-anchor="middle" textLength="236.8" lengthAdjust="spacingAndGlyphs" fill="#262626">Time (hrs)</text><text x="1298" y="59.7" font-family="Liberation Serif, serif" font-size="48" text-anchor="middle" textLength="378.6" lengthAdjust="spacingAndGlyphs" fill="#262626">Reactor Feedrate</text><text transform="translate(889.6,370.5) rotate(-90)" font-family="Liberation Serif, serif" font-size="48" text-anchor="middle" textLength="394.9" lengthAdjust="spacingAndGlyphs" fill="#262626">Flowrate (L hr<tspan dy="-18" font-size="33">−1</tspan><tspan dy="18">)</tspan></text></g><g id="bot"><rect x="796.5" y="832.5" width="1058.0" height="546.0" fill="none" stroke="#bdbdbd" stroke-width="1.6"/><line x1="796.5" y1="1287.5" x2="807.5" y2="1287.5" stroke="#bdbdbd" stroke-width="1.6"/><line x1="1854.5" y1="1287.5" x2="1843.5" y2="1287.5" stroke="#bdbdbd" stroke-width="1.6"/><line x1="796.5" y1="1196.5" x2="807.5" y2="1196.5" stroke="#bdbdbd" stroke-width="1.6"/><line x1="1854.5" y1="1196.5" x2="1843.5" y2="1196.5" stroke="#bdbdbd" stroke-width="1.6"/><line x1="796.5" y1="1105.5" x2="807.5" y2="1105.5" stroke="#bdbdbd" stroke-width="1.6"/><line x1="1854.5" y1="1105.5" x2="1843.5" y2="1105.5" stroke="#bdbdbd" stroke-width="1.6"/><line x1="796.5" y1="1014.5" x2="807.5" y2="1014.5" stroke="#bdbdbd" stroke-width="1.6"/><line x1="1854.5" y1="1014.5" x2="1843.5" y2="1014.5" stroke="#bdbdbd" stroke-width="1.6"/><line x1="796.5" y1="923.5" x2="807.5" y2="923.5" stroke="#bdbdbd" stroke-width="1.6"/><line x1="1854.5" y1="923.5" x2="1843.5" y2="923.5" stroke="#bdbdbd" stroke-width="1.6"/><line x1="972.8" y1="1378.5" x2="972.8" y2="1367.5" stroke="#bdbdbd" stroke-width="1.6"/><line x1="972.8" y1="832.5" x2="972.8" y2="843.5" stroke="#bdbdbd" stroke-width="1.6"/><line x1="1149.2" y1="1378.5" x2="1149.2" y2="1367.5" stroke="#bdbdbd" stroke-width="1.6"/><line x1="1149.2" y1="832.5" x2="1149.2" y2="843.5" stroke="#bdbdbd" stroke-width="1.6"/><line x1="1325.5" y1="1378.5" x2="1325.5" y2="1367.5" stroke="#bdbdbd" stroke-width="1.6"/><line x1="1325.5" y1="832.5" x2="1325.5" y2="843.5" stroke="#bdbdbd" stroke-width="1.6"/><line x1="1501.8" y1="1378.5" x2="1501.8" y2="1367.5" stroke="#bdbdbd" stroke-width="1.6"/><line x1="1501.8" y1="832.5" x2="1501.8" y2="843.5" stroke="#bdbdbd" stroke-width="1.6"/><line x1="1678.2" y1="1378.5" x2="1678.2" y2="1367.5" stroke="#bdbdbd" stroke-width="1.6"/><line x1="1678.2" y1="832.5" x2="1678.2" y2="843.5" stroke="#bdbdbd" stroke-width="1.6"/><text x="786" y="1387.0" font-family="Liberation Serif, serif" font-size="35" text-anchor="end" fill="#262626">0</text><text x="786" y="1296.0" font-family="Liberation Serif, serif" font-size="35" text-anchor="end" fill="#262626">1</text><text x="786" y="1205.0" font-family="Liberation Serif, serif" font-size="35" text-anchor="end" fill="#262626">2</text><text x="786" y="1114.0" font-family="Liberation Serif, serif" font-size="35" text-anchor="end" fill="#262626">3</text><text x="786" y="1023.0" font-family="Liberation Serif, serif" font-size="35" text-anchor="end" fill="#262626">4</text><text x="786" y="932.0" font-family="Liberation Serif, serif" font-size="35" text-anchor="end" fill="#262626">5</text><text x="786" y="841.0" font-family="Liberation Serif, serif" font-size="35" text-anchor="end" fill="#262626">6</text><text x="796.5" y="1418" font-family="Liberation Serif, serif" font-size="35" text-anchor="middle" fill="#262626">100</text><text x="972.8" y="1418" font-family="Liberation Serif, serif" font-size="35" text-anchor="middle" fill="#262626">150</text><text x="1149.2" y="1418" font-family="Liberation Serif, serif" font-size="35" text-anchor="middle" fill="#262626">200</text><text x="1325.5" y="1418" font-family="Liberation Serif, serif" font-size="35" text-anchor="middle" fill="#262626">250</text><text x="1501.8" y="1418" font-family="Liberation Serif, serif" font-size="35" text-anchor="middle" fill="#262626">300</text><text x="1678.2" y="1418" font-family="Liberation Serif, serif" font-size="35" text-anchor="middle" fill="#262626">350</text><text x="1854.5" y="1418" font-family="Liberation Serif, serif" font-size="35" text-anchor="middle" fill="#262626">400</text><text x="1324.2" y="1463" font-family="Liberation Serif, serif" font-size="38" text-anchor="middle" textLength="290.4" lengthAdjust="spacingAndGlyphs" fill="#262626">Batch Time (hrs)</text><text transform="translate(752,1106.3) rotate(-90)" font-family="Liberation Serif, serif" font-size="38" text-anchor="middle" textLength="433" lengthAdjust="spacingAndGlyphs" fill="#262626">Nosiheptide Produced (g)</text><circle cx="1183.8" cy="1145.2" r="8.8" fill="none" stroke="#ff0000" stroke-width="3.2"/><circle cx="1483.8" cy="938.9" r="8.8" fill="none" stroke="#ff0000" stroke-width="3.2"/><circle cx="1624.2" cy="902.2" r="8.8" fill="none" stroke="#ff0000" stroke-width="3.2"/><circle cx="1641.9" cy="938.4" r="8.8" fill="none" stroke="#ff0000" stroke-width="3.2"/><circle cx="1818.2" cy="1120.7" r="8.8" fill="none" stroke="#ff0000" stroke-width="3.2"/><circle cx="795.6" cy="1371.6" r="10.8" fill="#ff0000"/><circle cx="831" cy="1370.4" r="10.8" fill="#ff0000"/><circle cx="866.4" cy="1369.4" r="10.8" fill="#ff0000"/><circle cx="901.4" cy="1368.6" r="10.8" fill="#ff0000"/><circle cx="937" cy="1367.4" r="10.8" fill="#ff0000"/><circle cx="972" cy="1365.6" r="10.8" fill="#ff0000"/><circle cx="1007" cy="1363.4" r="10.8" fill="#ff0000"/><circle cx="1042.4" cy="1360" r="10.8" fill="#ff0000"/><circle cx="1077.4" cy="1359.4" r="10.8" fill="#ff0000"/><circle cx="1112.6" cy="1356.4" r="10.8" fill="#ff0000"/><circle cx="1165.8" cy="1159" r="10.8" fill="#ff0000"/><circle cx="1201.2" cy="1110.9" r="10.8" fill="#ff0000"/><circle cx="1219.2" cy="1101" r="10.8" fill="#ff0000"/><circle cx="1236.6" cy="1078.9" r="10.8" fill="#ff0000"/><circle cx="1254" cy="1060.2" r="10.8" fill="#ff0000"/><circle cx="1272" cy="1050.1" r="10.8" fill="#ff0000"/><circle cx="1289.4" cy="1027.7" r="10.8" fill="#ff0000"/><circle cx="1307.1" cy="1017" r="10.8" fill="#ff0000"/><circle cx="1325" cy="1009.5" r="10.8" fill="#ff0000"/><circle cx="1342.4" cy="993.2" r="10.8" fill="#ff0000"/><circle cx="1359.7" cy="980.1" r="10.8" fill="#ff0000"/><circle cx="1377.7" cy="975.3" r="10.8" fill="#ff0000"/><circle cx="1395.2" cy="967.6" r="10.8" fill="#ff0000"/><circle cx="1412.7" cy="951.5" r="10.8" fill="#ff0000"/><circle cx="1430.5" cy="945.2" r="10.8" fill="#ff0000"/><circle cx="1448" cy="942.5" r="10.8" fill="#ff0000"/><circle cx="1465.6" cy="939.8" r="10.8" fill="#ff0000"/><circle cx="1500.8" cy="916.9" r="10.8" fill="#ff0000"/><circle cx="1518.4" cy="914.8" r="10.8" fill="#ff0000"/><circle cx="1536.1" cy="913" r="10.8" fill="#ff0000"/><circle cx="1553.7" cy="910.8" r="10.8" fill="#ff0000"/><circle cx="1571.6" cy="905.8" r="10.8" fill="#ff0000"/><circle cx="1589.2" cy="894.5" r="10.8" fill="#ff0000"/><circle cx="1606.5" cy="894.2" r="10.8" fill="#ff0000"/><circle cx="1483.3" cy="928.2" r="10.8" fill="#ff0000"/><rect x="807.6" y="845.1" width="288.3" height="59.3" fill="#fff" stroke="#c8c8c8" stroke-width="1.6"/><circle cx="823.7" cy="860.1" r="8.9" fill="none" stroke="#ff0000" stroke-width="3.2"/><circle cx="823.7" cy="888.2" r="10.6" fill="#ff0000"/><text x="840" y="866.4" font-family="Liberation Serif, serif" font-size="24" textLength="147.4" lengthAdjust="spacingAndGlyphs" fill="#262626">Local Solution</text><text x="840" y="894.6" font-family="Liberation Serif, serif" font-size="24" textLength="253.9" lengthAdjust="spacingAndGlyphs" fill="#262626">Non-Dominated Solution</text></g><g id="ferm"><text x="24" y="817.9" font-family="Liberation Sans, sans-serif" font-weight="bold" font-size="43.3" textLength="106.4" lengthAdjust="spacingAndGlyphs" fill="#000">Feed</text><text x="59" y="869.5" font-family="Liberation Serif, serif" font-size="44" fill="#000"><tspan font-style="italic">F</tspan><tspan>(</tspan><tspan font-style="italic">t</tspan><tspan>)</tspan></text><text x="220" y="1133.7" font-family="Liberation Serif, serif" font-size="44" fill="#000"><tspan font-style="italic">V</tspan><tspan>(</tspan><tspan font-style="italic">t</tspan><tspan>)</tspan></text><text x="539" y="1133.7" font-family="Liberation Serif, serif" font-size="44" fill="#000"><tspan font-style="italic">X</tspan><tspan>(</tspan><tspan font-style="italic">t</tspan><tspan>)</tspan></text><text x="213" y="1212.9" font-family="Liberation Serif, serif" font-size="44" fill="#000"><tspan font-style="italic">pH</tspan><tspan>(</tspan><tspan font-style="italic">t</tspan><tspan>)</tspan></text><text x="536" y="1212.9" font-family="Liberation Serif, serif" font-size="44" fill="#000"><tspan font-style="italic">S</tspan><tspan>(</tspan><tspan font-style="italic">t</tspan><tspan>)</tspan></text><text x="220" y="1289.9" font-family="Liberation Serif, serif" font-size="44" fill="#000"><tspan font-style="italic">T</tspan><tspan>(</tspan><tspan font-style="italic">t</tspan><tspan>)</tspan></text><text x="530" y="1289.9" font-family="Liberation Serif, serif" font-size="44" fill="#000"><tspan font-style="italic">P</tspan><tspan>(</tspan><tspan font-style="italic">t</tspan><tspan>)</tspan></text><text x="359" y="1351" font-family="Liberation Serif, serif" font-size="44" fill="#000"><tspan font-style="italic">CO</tspan><tspan>(</tspan><tspan font-style="italic">t</tspan><tspan>)</tspan></text><text x="300.5" y="1471.2" font-family="Liberation Sans, sans-serif" font-weight="bold" font-size="44" fill="#000">Fermentor</text><text x="389" y="1523" font-family="Liberation Serif, serif" font-size="44" fill="#000"><tspan font-style="italic">V</tspan></text><text x="413" y="1532.5" font-family="Liberation Serif, serif" font-size="29" fill="#000">F</text><path d="M154,828 H276 V874" fill="none" stroke="#000" stroke-width="3.6"/><path d="M265.5,873 L286.6,873 L276,894.5 Z" fill="#000"/><path d="M167,1293.5 V897.6 H651.2 V1293.5" fill="none" stroke="#000" stroke-width="5" stroke-linejoin="round"/><line x1="168" y1="1295.5" x2="406.6" y2="1418.8" stroke="#000" stroke-width="5"/><line x1="408.2" y1="1418.8" x2="650.4" y2="1295.5" stroke="#000" stroke-width="5"/><line x1="167" y1="1082.5" x2="651" y2="1082.5" stroke="#000" stroke-width="3"/><line x1="406.6" y1="844" x2="406.6" y2="1238" stroke="#000" stroke-width="3.2"/><path d="M406.7,1236.8 L384.7,1219.2 A26.2,26.2 0 1 0 387.5,1257.5 Z M406.7,1236.8 L427.5,1258.0 A26.2,26.2 0 1 0 430.3,1218.8 Z" fill="#b4d7ee" stroke="#08296b" stroke-width="3.3" stroke-linejoin="round"/></g>
</svg></body></html>
